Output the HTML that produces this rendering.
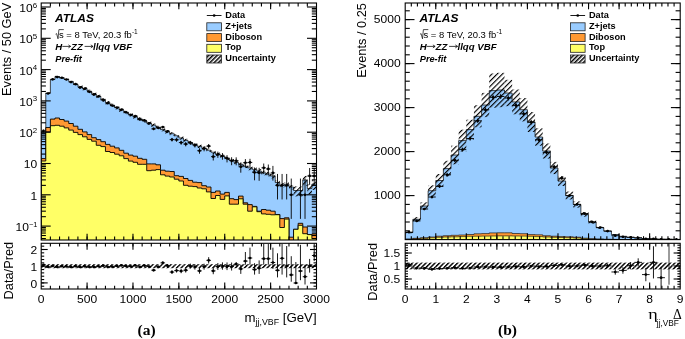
<!DOCTYPE html><html><head><meta charset="utf-8"><style>html,body{margin:0;padding:0;background:#fff;}svg{display:block;filter:blur(0.3px);}text{font-family:'Liberation Sans', sans-serif;}</style></head><body>
<svg width="685" height="339" viewBox="0 0 685 339">
<defs>
<pattern id="hatch" patternUnits="userSpaceOnUse" width="3.7" height="3.7" patternTransform="rotate(45)"><rect x="0" y="0" width="1.15" height="3.7" fill="#000"/></pattern><pattern id="hatchL" patternUnits="userSpaceOnUse" width="3.0" height="3.0" patternTransform="rotate(45)"><rect x="0" y="0" width="1.5" height="3.0" fill="#000"/></pattern><pattern id="hatch2" patternUnits="userSpaceOnUse" width="3.2" height="3.2" patternTransform="rotate(45)"><rect x="0" y="0" width="1.45" height="3.2" fill="#000"/></pattern>
<clipPath id="cl1"><rect x="41.2" y="3" width="275.3" height="237"/></clipPath>
<clipPath id="cl2"><rect x="41.2" y="243.3" width="275.3" height="45.7"/></clipPath>
</defs>
<rect width="685" height="339" fill="#fff"/>
<g clip-path="url(#cl1)">
<path d="M41.2,241 L41.2,132 L45.79,132 L45.79,93 L50.38,93 L50.38,79.5 L54.97,79.5 L54.97,76.5 L59.55,76.5 L59.55,77.8 L64.14,77.8 L64.14,79.3 L68.73,79.3 L68.73,81.5 L73.32,81.5 L73.32,84.2 L77.91,84.2 L77.91,86.8 L82.5,86.8 L82.5,88.6 L87.08,88.6 L87.08,91.2 L91.67,91.2 L91.67,93.9 L96.26,93.9 L96.26,96.3 L100.85,96.3 L100.85,100.11 L105.44,100.11 L105.44,102.65 L110.03,102.65 L110.03,105.17 L114.61,105.17 L114.61,107.65 L119.2,107.65 L119.2,110.14 L123.79,110.14 L123.79,112.4 L128.38,112.4 L128.38,114.66 L132.97,114.66 L132.97,116.82 L137.56,116.82 L137.56,118.84 L142.14,118.84 L142.14,120.86 L146.73,120.86 L146.73,122.99 L151.32,122.99 L151.32,125.14 L155.91,125.14 L155.91,127.34 L160.5,127.34 L160.5,129.56 L165.09,129.56 L165.09,131.75 L169.67,131.75 L169.67,133.73 L174.26,133.73 L174.26,135.72 L178.85,135.72 L178.85,137.94 L183.44,137.94 L183.44,140.35 L188.03,140.35 L188.03,142.76 L192.62,142.76 L192.62,144.52 L197.2,144.52 L197.2,146.27 L201.79,146.27 L201.79,148.14 L206.38,148.14 L206.38,150.19 L210.97,150.19 L210.97,152.2 L215.56,152.2 L215.56,154.14 L220.15,154.14 L220.15,156.1 L224.73,156.1 L224.73,158.24 L229.32,158.24 L229.32,160.38 L233.91,160.38 L233.91,162.4 L238.5,162.4 L238.5,164.35 L243.09,164.35 L243.09,166.29 L247.68,166.29 L247.68,167.85 L252.26,167.85 L252.26,169.4 L256.85,169.4 L256.85,171.07 L261.44,171.07 L261.44,172.87 L266.03,172.87 L266.03,174 L270.62,174 L270.62,176 L275.2,176 L275.21,182.5 L279.79,182.5 L279.79,185 L284.38,185 L284.38,184.2 L288.97,184.2 L288.97,187 L293.56,187 L293.56,190.5 L298.15,190.5 L298.15,190.5 L302.74,190.5 L302.74,180 L307.32,180 L307.32,188.5 L311.91,188.5 L311.91,184 L316.5,184 L316.5,241 Z" fill="#99ccff" stroke="#000" stroke-width="0.7"/>
<path d="M41.2,241 L41.2,158.6 L45.79,158.6 L45.79,127.5 L50.38,127.5 L50.38,119.1 L54.97,119.1 L54.97,118 L59.55,118 L59.55,119.5 L64.14,119.5 L64.14,121.1 L68.73,121.1 L68.73,123.5 L73.32,123.5 L73.32,126.2 L77.91,126.2 L77.91,129.3 L82.5,129.3 L82.5,131.9 L87.08,131.9 L87.08,134.6 L91.67,134.6 L91.67,137.7 L96.26,137.7 L96.26,139.6 L100.85,139.6 L100.85,141.7 L105.44,141.7 L105.44,144.4 L110.03,144.4 L110.03,146.2 L114.61,146.2 L114.61,147.9 L119.2,147.9 L119.2,150.3 L123.79,150.3 L123.79,153.2 L128.38,153.2 L128.38,155.1 L132.97,155.1 L132.97,156.2 L137.56,156.2 L137.56,158.3 L142.14,158.3 L142.14,159.3 L146.73,159.3 L146.73,163.9 L151.32,163.9 L151.32,163.9 L155.91,163.9 L155.91,164.8 L160.5,164.8 L160.5,170.2 L165.09,170.2 L165.09,171.2 L169.67,171.2 L169.67,171.5 L174.26,171.5 L174.26,175.7 L178.85,175.7 L178.85,176.4 L183.44,176.4 L183.44,178.5 L188.03,178.5 L188.03,180.4 L192.62,180.4 L192.62,182.2 L197.2,182.2 L197.2,182.6 L201.79,182.6 L201.79,185.7 L206.38,185.7 L206.38,187 L210.97,187 L210.97,192.4 L215.56,192.4 L215.56,191 L220.15,191 L220.15,194.1 L224.73,194.1 L224.73,192.4 L229.32,192.4 L229.32,198.7 L233.91,198.7 L233.91,199.6 L238.5,199.6 L238.5,196.1 L243.09,196.1 L243.09,202.8 L247.68,202.8 L247.68,204.6 L252.26,204.6 L252.26,206.4 L256.85,206.4 L256.85,211.2 L261.44,211.2 L261.44,209.5 L266.03,209.5 L266.03,210.2 L270.62,210.2 L270.62,211.2 L275.2,211.2 L275.21,214.5 L279.79,214.5 L279.79,218.6 L284.38,218.6 L284.38,217.8 L288.97,217.8 L288.97,237.2 L293.56,237.2 L293.56,229.3 L298.15,229.3 L298.15,223.3 L302.74,223.3 L302.74,227 L307.32,227 L307.32,234.6 L311.91,234.6 L311.91,234 L316.5,234 L316.5,241 Z" fill="#ff9933" stroke="#000" stroke-width="0.9"/>
<path d="M41.2,241 L41.2,161 L45.79,161 L45.79,131.9 L50.38,131.9 L50.38,125.7 L54.97,125.7 L54.97,125.3 L59.55,125.3 L59.55,126.2 L64.14,126.2 L64.14,127.9 L68.73,127.9 L68.73,130.1 L73.32,130.1 L73.32,132.4 L77.91,132.4 L77.91,134.6 L82.5,134.6 L82.5,136.8 L87.08,136.8 L87.08,139.4 L91.67,139.4 L91.67,141.2 L96.26,141.2 L96.26,145.3 L100.85,145.3 L100.85,146.6 L105.44,146.6 L105.44,151.5 L110.03,151.5 L110.03,152.5 L114.61,152.5 L114.61,154.2 L119.2,154.2 L119.2,155.8 L123.79,155.8 L123.79,158.6 L128.38,158.6 L128.38,161.1 L132.97,161.1 L132.97,162.3 L137.56,162.3 L137.56,164.3 L142.14,164.3 L142.14,164.3 L146.73,164.3 L146.73,170.7 L151.32,170.7 L151.32,170.2 L155.91,170.2 L155.91,169.6 L160.5,169.6 L160.5,174.8 L165.09,174.8 L165.09,176.1 L169.67,176.1 L169.67,177 L174.26,177 L174.26,179.2 L178.85,179.2 L178.85,181 L183.44,181 L183.44,185.3 L188.03,185.3 L188.03,186.2 L192.62,186.2 L192.62,186.6 L197.2,186.6 L197.2,188 L201.79,188 L201.79,188.8 L206.38,188.8 L206.38,191.9 L210.97,191.9 L210.97,198.5 L215.56,198.5 L215.56,195.5 L220.15,195.5 L220.15,199.4 L224.73,199.4 L224.73,195.9 L229.32,195.9 L229.32,204.2 L233.91,204.2 L233.91,204.2 L238.5,204.2 L238.5,198.8 L243.09,198.8 L243.09,204.2 L247.68,204.2 L247.68,211.2 L252.26,211.2 L252.26,206.8 L256.85,206.8 L256.85,211.7 L261.44,211.7 L261.44,213.9 L266.03,213.9 L266.03,214.3 L270.62,214.3 L270.62,214.8 L275.2,214.8 L275.21,214.7 L279.79,214.7 L279.79,227.5 L284.38,227.5 L284.38,219.1 L288.97,219.1 L288.97,245 L293.56,245 L293.56,229.3 L298.15,229.3 L298.15,225.3 L302.74,225.3 L302.74,233.7 L307.32,233.7 L307.32,234.6 L311.91,234.6 L311.91,238.5 L316.5,238.5 L316.5,241 Z" fill="#ffff66" stroke="#000" stroke-width="0.9"/>
<rect x="41.2" y="131.34" width="4.59" height="1.36" fill="url(#hatch)"/>
<rect x="45.79" y="92.34" width="4.59" height="1.36" fill="url(#hatch)"/>
<rect x="50.38" y="78.84" width="4.59" height="1.36" fill="url(#hatch)"/>
<rect x="54.97" y="75.84" width="4.59" height="1.36" fill="url(#hatch)"/>
<rect x="59.55" y="77.14" width="4.59" height="1.36" fill="url(#hatch)"/>
<rect x="64.14" y="78.64" width="4.59" height="1.36" fill="url(#hatch)"/>
<rect x="68.73" y="80.84" width="4.59" height="1.36" fill="url(#hatch)"/>
<rect x="73.32" y="83.54" width="4.59" height="1.36" fill="url(#hatch)"/>
<rect x="77.91" y="85.26" width="4.59" height="3.28" fill="url(#hatch)"/>
<rect x="82.5" y="87.06" width="4.59" height="3.28" fill="url(#hatch)"/>
<rect x="87.08" y="89.66" width="4.59" height="3.28" fill="url(#hatch)"/>
<rect x="91.67" y="92.36" width="4.59" height="3.28" fill="url(#hatch)"/>
<rect x="96.26" y="94.76" width="4.59" height="3.28" fill="url(#hatch)"/>
<rect x="100.85" y="98.57" width="4.59" height="3.28" fill="url(#hatch)"/>
<rect x="105.44" y="101.11" width="4.59" height="3.28" fill="url(#hatch)"/>
<rect x="110.03" y="103.63" width="4.59" height="3.28" fill="url(#hatch)"/>
<rect x="114.61" y="106.11" width="4.59" height="3.28" fill="url(#hatch)"/>
<rect x="119.2" y="108.6" width="4.59" height="3.28" fill="url(#hatch)"/>
<rect x="123.79" y="110.86" width="4.59" height="3.28" fill="url(#hatch)"/>
<rect x="128.38" y="113.12" width="4.59" height="3.28" fill="url(#hatch)"/>
<rect x="132.97" y="115.28" width="4.59" height="3.28" fill="url(#hatch)"/>
<rect x="137.56" y="117.3" width="4.59" height="3.28" fill="url(#hatch)"/>
<rect x="142.14" y="119.32" width="4.59" height="3.28" fill="url(#hatch)"/>
<rect x="146.73" y="121.45" width="4.59" height="3.28" fill="url(#hatch)"/>
<rect x="151.32" y="123.6" width="4.59" height="3.28" fill="url(#hatch)"/>
<rect x="155.91" y="125.8" width="4.59" height="3.28" fill="url(#hatch)"/>
<rect x="160.5" y="128.02" width="4.59" height="3.28" fill="url(#hatch)"/>
<rect x="165.09" y="130.21" width="4.59" height="3.28" fill="url(#hatch)"/>
<rect x="169.67" y="132.19" width="4.59" height="3.28" fill="url(#hatch)"/>
<rect x="174.26" y="134.18" width="4.59" height="3.28" fill="url(#hatch)"/>
<rect x="178.85" y="136.4" width="4.59" height="3.28" fill="url(#hatch)"/>
<rect x="183.44" y="138.81" width="4.59" height="3.28" fill="url(#hatch)"/>
<rect x="188.03" y="141.22" width="4.59" height="3.28" fill="url(#hatch)"/>
<rect x="192.62" y="142.98" width="4.59" height="3.28" fill="url(#hatch)"/>
<rect x="197.2" y="144.73" width="4.59" height="3.28" fill="url(#hatch)"/>
<rect x="201.79" y="146.6" width="4.59" height="3.28" fill="url(#hatch)"/>
<rect x="206.38" y="148.65" width="4.59" height="3.28" fill="url(#hatch)"/>
<rect x="210.97" y="150.66" width="4.59" height="3.28" fill="url(#hatch)"/>
<rect x="215.56" y="152.59" width="4.59" height="3.28" fill="url(#hatch)"/>
<rect x="220.15" y="154.56" width="4.59" height="3.28" fill="url(#hatch)"/>
<rect x="224.73" y="156.7" width="4.59" height="3.28" fill="url(#hatch)"/>
<rect x="229.32" y="158.83" width="4.59" height="3.28" fill="url(#hatch)"/>
<rect x="233.91" y="160.86" width="4.59" height="3.28" fill="url(#hatch)"/>
<rect x="238.5" y="162.81" width="4.59" height="3.28" fill="url(#hatch)"/>
<rect x="243.09" y="164.75" width="4.59" height="3.28" fill="url(#hatch)"/>
<rect x="247.68" y="165.83" width="4.59" height="4.39" fill="url(#hatch)"/>
<rect x="252.26" y="167.39" width="4.59" height="4.39" fill="url(#hatch)"/>
<rect x="256.85" y="169.05" width="4.59" height="4.39" fill="url(#hatch)"/>
<rect x="261.44" y="170.85" width="4.59" height="4.39" fill="url(#hatch)"/>
<rect x="266.03" y="171.98" width="4.59" height="4.39" fill="url(#hatch)"/>
<rect x="270.62" y="173.98" width="4.59" height="4.39" fill="url(#hatch)"/>
<rect x="275.21" y="180.48" width="4.59" height="4.39" fill="url(#hatch)"/>
<rect x="279.79" y="182.98" width="4.59" height="4.39" fill="url(#hatch)"/>
<rect x="284.38" y="182.18" width="4.59" height="4.39" fill="url(#hatch)"/>
<rect x="288.97" y="184.98" width="4.59" height="4.39" fill="url(#hatch)"/>
<rect x="293.56" y="186.42" width="4.59" height="9.94" fill="url(#hatch)"/>
<rect x="298.15" y="186.42" width="4.59" height="9.94" fill="url(#hatch)"/>
<rect x="302.74" y="175.92" width="4.59" height="9.94" fill="url(#hatch)"/>
<rect x="307.32" y="184.42" width="4.59" height="9.94" fill="url(#hatch)"/>
<rect x="311.91" y="179.92" width="4.59" height="9.94" fill="url(#hatch)"/>
<line x1="43.49" y1="129.71" x2="43.49" y2="132.32" stroke="#000" stroke-width="0.9"/>
<line x1="41.2" y1="130.95" x2="45.79" y2="130.95" stroke="#000" stroke-width="0.9"/>
<circle cx="43.49" cy="130.95" r="1.35" fill="#000"/>
<line x1="48.08" y1="93.16" x2="48.08" y2="93.81" stroke="#000" stroke-width="0.9"/>
<line x1="45.79" y1="93.48" x2="50.38" y2="93.48" stroke="#000" stroke-width="0.9"/>
<circle cx="48.08" cy="93.48" r="1.35" fill="#000"/>
<line x1="52.67" y1="79.1" x2="52.67" y2="79.49" stroke="#000" stroke-width="0.9"/>
<line x1="50.38" y1="79.3" x2="54.97" y2="79.3" stroke="#000" stroke-width="0.9"/>
<circle cx="52.67" cy="79.3" r="1.35" fill="#000"/>
<line x1="57.26" y1="76.92" x2="57.26" y2="77.27" stroke="#000" stroke-width="0.9"/>
<line x1="54.97" y1="77.09" x2="59.55" y2="77.09" stroke="#000" stroke-width="0.9"/>
<circle cx="57.26" cy="77.09" r="1.35" fill="#000"/>
<line x1="61.85" y1="77.57" x2="61.85" y2="77.94" stroke="#000" stroke-width="0.9"/>
<line x1="59.55" y1="77.75" x2="64.14" y2="77.75" stroke="#000" stroke-width="0.9"/>
<circle cx="61.85" cy="77.75" r="1.35" fill="#000"/>
<line x1="66.44" y1="79.29" x2="66.44" y2="79.68" stroke="#000" stroke-width="0.9"/>
<line x1="64.14" y1="79.48" x2="68.73" y2="79.48" stroke="#000" stroke-width="0.9"/>
<circle cx="66.44" cy="79.48" r="1.35" fill="#000"/>
<line x1="71.02" y1="81.9" x2="71.02" y2="82.33" stroke="#000" stroke-width="0.9"/>
<line x1="68.73" y1="82.11" x2="73.32" y2="82.11" stroke="#000" stroke-width="0.9"/>
<circle cx="71.02" cy="82.11" r="1.35" fill="#000"/>
<line x1="75.61" y1="83.96" x2="75.61" y2="84.42" stroke="#000" stroke-width="0.9"/>
<line x1="73.32" y1="84.19" x2="77.91" y2="84.19" stroke="#000" stroke-width="0.9"/>
<circle cx="75.61" cy="84.19" r="1.35" fill="#000"/>
<line x1="80.2" y1="87.18" x2="80.2" y2="87.71" stroke="#000" stroke-width="0.9"/>
<line x1="77.91" y1="87.44" x2="82.5" y2="87.44" stroke="#000" stroke-width="0.9"/>
<circle cx="80.2" cy="87.44" r="1.35" fill="#000"/>
<line x1="84.79" y1="88.42" x2="84.79" y2="88.97" stroke="#000" stroke-width="0.9"/>
<line x1="82.5" y1="88.69" x2="87.08" y2="88.69" stroke="#000" stroke-width="0.9"/>
<circle cx="84.79" cy="88.69" r="1.35" fill="#000"/>
<line x1="89.38" y1="91.49" x2="89.38" y2="92.11" stroke="#000" stroke-width="0.9"/>
<line x1="87.08" y1="91.8" x2="91.67" y2="91.8" stroke="#000" stroke-width="0.9"/>
<circle cx="89.38" cy="91.8" r="1.35" fill="#000"/>
<line x1="93.97" y1="94.13" x2="93.97" y2="94.81" stroke="#000" stroke-width="0.9"/>
<line x1="91.67" y1="94.47" x2="96.26" y2="94.47" stroke="#000" stroke-width="0.9"/>
<circle cx="93.97" cy="94.47" r="1.35" fill="#000"/>
<line x1="98.55" y1="96.04" x2="98.55" y2="96.77" stroke="#000" stroke-width="0.9"/>
<line x1="96.26" y1="96.4" x2="100.85" y2="96.4" stroke="#000" stroke-width="0.9"/>
<circle cx="98.55" cy="96.4" r="1.35" fill="#000"/>
<line x1="103.14" y1="99.27" x2="103.14" y2="100.09" stroke="#000" stroke-width="0.9"/>
<line x1="100.85" y1="99.68" x2="105.44" y2="99.68" stroke="#000" stroke-width="0.9"/>
<circle cx="103.14" cy="99.68" r="1.35" fill="#000"/>
<line x1="107.73" y1="102.72" x2="107.73" y2="103.65" stroke="#000" stroke-width="0.9"/>
<line x1="105.44" y1="103.18" x2="110.03" y2="103.18" stroke="#000" stroke-width="0.9"/>
<circle cx="107.73" cy="103.18" r="1.35" fill="#000"/>
<line x1="112.32" y1="105.05" x2="112.32" y2="106.07" stroke="#000" stroke-width="0.9"/>
<line x1="110.03" y1="105.55" x2="114.61" y2="105.55" stroke="#000" stroke-width="0.9"/>
<circle cx="112.32" cy="105.55" r="1.35" fill="#000"/>
<line x1="116.91" y1="106.95" x2="116.91" y2="108.04" stroke="#000" stroke-width="0.9"/>
<line x1="114.61" y1="107.48" x2="119.2" y2="107.48" stroke="#000" stroke-width="0.9"/>
<circle cx="116.91" cy="107.48" r="1.35" fill="#000"/>
<line x1="121.5" y1="108.97" x2="121.5" y2="110.15" stroke="#000" stroke-width="0.9"/>
<line x1="119.2" y1="109.55" x2="123.79" y2="109.55" stroke="#000" stroke-width="0.9"/>
<circle cx="121.5" cy="109.55" r="1.35" fill="#000"/>
<line x1="126.08" y1="111.66" x2="126.08" y2="112.97" stroke="#000" stroke-width="0.9"/>
<line x1="123.79" y1="112.3" x2="128.38" y2="112.3" stroke="#000" stroke-width="0.9"/>
<circle cx="126.08" cy="112.3" r="1.35" fill="#000"/>
<line x1="130.67" y1="114.1" x2="130.67" y2="115.54" stroke="#000" stroke-width="0.9"/>
<line x1="128.38" y1="114.8" x2="132.97" y2="114.8" stroke="#000" stroke-width="0.9"/>
<circle cx="130.67" cy="114.8" r="1.35" fill="#000"/>
<line x1="135.26" y1="115.45" x2="135.26" y2="116.96" stroke="#000" stroke-width="0.9"/>
<line x1="132.97" y1="116.19" x2="137.56" y2="116.19" stroke="#000" stroke-width="0.9"/>
<circle cx="135.26" cy="116.19" r="1.35" fill="#000"/>
<line x1="139.85" y1="118.65" x2="139.85" y2="120.35" stroke="#000" stroke-width="0.9"/>
<line x1="137.56" y1="119.47" x2="142.14" y2="119.47" stroke="#000" stroke-width="0.9"/>
<circle cx="139.85" cy="119.47" r="1.35" fill="#000"/>
<line x1="144.44" y1="119.53" x2="144.44" y2="121.3" stroke="#000" stroke-width="0.9"/>
<line x1="142.14" y1="120.39" x2="146.73" y2="120.39" stroke="#000" stroke-width="0.9"/>
<circle cx="144.44" cy="120.39" r="1.35" fill="#000"/>
<line x1="149.03" y1="122.33" x2="149.03" y2="124.3" stroke="#000" stroke-width="0.9"/>
<line x1="146.73" y1="123.28" x2="151.32" y2="123.28" stroke="#000" stroke-width="0.9"/>
<circle cx="149.03" cy="123.28" r="1.35" fill="#000"/>
<line x1="153.61" y1="127.72" x2="153.61" y2="130.13" stroke="#000" stroke-width="0.9"/>
<line x1="151.32" y1="128.87" x2="155.91" y2="128.87" stroke="#000" stroke-width="0.9"/>
<circle cx="153.61" cy="128.87" r="1.35" fill="#000"/>
<line x1="158.2" y1="126.76" x2="158.2" y2="129.08" stroke="#000" stroke-width="0.9"/>
<line x1="155.91" y1="127.87" x2="160.5" y2="127.87" stroke="#000" stroke-width="0.9"/>
<circle cx="158.2" cy="127.87" r="1.35" fill="#000"/>
<line x1="162.79" y1="126" x2="162.79" y2="128.26" stroke="#000" stroke-width="0.9"/>
<line x1="160.5" y1="127.08" x2="165.09" y2="127.08" stroke="#000" stroke-width="0.9"/>
<circle cx="162.79" cy="127.08" r="1.35" fill="#000"/>
<line x1="167.38" y1="130.07" x2="167.38" y2="132.71" stroke="#000" stroke-width="0.9"/>
<line x1="165.09" y1="131.33" x2="169.67" y2="131.33" stroke="#000" stroke-width="0.9"/>
<circle cx="167.38" cy="131.33" r="1.35" fill="#000"/>
<line x1="171.97" y1="137.91" x2="171.97" y2="141.5" stroke="#000" stroke-width="0.9"/>
<line x1="169.67" y1="139.59" x2="174.26" y2="139.59" stroke="#000" stroke-width="0.9"/>
<circle cx="171.97" cy="139.59" r="1.35" fill="#000"/>
<line x1="176.56" y1="138.12" x2="176.56" y2="141.74" stroke="#000" stroke-width="0.9"/>
<line x1="174.26" y1="139.81" x2="178.85" y2="139.81" stroke="#000" stroke-width="0.9"/>
<circle cx="176.56" cy="139.81" r="1.35" fill="#000"/>
<line x1="181.14" y1="140.73" x2="181.14" y2="144.75" stroke="#000" stroke-width="0.9"/>
<line x1="178.85" y1="142.59" x2="183.44" y2="142.59" stroke="#000" stroke-width="0.9"/>
<circle cx="181.14" cy="142.59" r="1.35" fill="#000"/>
<line x1="185.73" y1="142.12" x2="185.73" y2="146.36" stroke="#000" stroke-width="0.9"/>
<line x1="183.44" y1="144.08" x2="188.03" y2="144.08" stroke="#000" stroke-width="0.9"/>
<circle cx="185.73" cy="144.08" r="1.35" fill="#000"/>
<line x1="190.32" y1="140.83" x2="190.32" y2="144.86" stroke="#000" stroke-width="0.9"/>
<line x1="188.03" y1="142.69" x2="192.61" y2="142.69" stroke="#000" stroke-width="0.9"/>
<circle cx="190.32" cy="142.69" r="1.35" fill="#000"/>
<line x1="194.91" y1="143.1" x2="194.91" y2="147.51" stroke="#000" stroke-width="0.9"/>
<line x1="192.62" y1="145.13" x2="197.2" y2="145.13" stroke="#000" stroke-width="0.9"/>
<circle cx="194.91" cy="145.13" r="1.35" fill="#000"/>
<line x1="199.5" y1="148.28" x2="199.5" y2="153.73" stroke="#000" stroke-width="0.9"/>
<line x1="197.2" y1="150.73" x2="201.79" y2="150.73" stroke="#000" stroke-width="0.9"/>
<circle cx="199.5" cy="150.73" r="1.35" fill="#000"/>
<line x1="204.09" y1="146.27" x2="204.09" y2="151.29" stroke="#000" stroke-width="0.9"/>
<line x1="201.79" y1="148.55" x2="206.38" y2="148.55" stroke="#000" stroke-width="0.9"/>
<circle cx="204.09" cy="148.55" r="1.35" fill="#000"/>
<line x1="208.67" y1="144.02" x2="208.67" y2="148.59" stroke="#000" stroke-width="0.9"/>
<line x1="206.38" y1="146.11" x2="210.97" y2="146.11" stroke="#000" stroke-width="0.9"/>
<circle cx="208.67" cy="146.11" r="1.35" fill="#000"/>
<line x1="213.26" y1="153.68" x2="213.26" y2="160.5" stroke="#000" stroke-width="0.9"/>
<line x1="210.97" y1="156.67" x2="215.56" y2="156.67" stroke="#000" stroke-width="0.9"/>
<circle cx="213.26" cy="156.67" r="1.35" fill="#000"/>
<line x1="217.85" y1="151.62" x2="217.85" y2="157.88" stroke="#000" stroke-width="0.9"/>
<line x1="215.56" y1="154.39" x2="220.15" y2="154.39" stroke="#000" stroke-width="0.9"/>
<circle cx="217.85" cy="154.39" r="1.35" fill="#000"/>
<line x1="222.44" y1="153.06" x2="222.44" y2="159.71" stroke="#000" stroke-width="0.9"/>
<line x1="220.15" y1="155.98" x2="224.73" y2="155.98" stroke="#000" stroke-width="0.9"/>
<circle cx="222.44" cy="155.98" r="1.35" fill="#000"/>
<line x1="227.03" y1="155.15" x2="227.03" y2="162.42" stroke="#000" stroke-width="0.9"/>
<line x1="224.73" y1="158.3" x2="229.32" y2="158.3" stroke="#000" stroke-width="0.9"/>
<circle cx="227.03" cy="158.3" r="1.35" fill="#000"/>
<line x1="231.62" y1="157.24" x2="231.62" y2="165.21" stroke="#000" stroke-width="0.9"/>
<line x1="229.32" y1="160.65" x2="233.91" y2="160.65" stroke="#000" stroke-width="0.9"/>
<circle cx="231.62" cy="160.65" r="1.35" fill="#000"/>
<line x1="236.2" y1="157.33" x2="236.2" y2="165.32" stroke="#000" stroke-width="0.9"/>
<line x1="233.91" y1="160.74" x2="238.5" y2="160.74" stroke="#000" stroke-width="0.9"/>
<circle cx="236.2" cy="160.74" r="1.35" fill="#000"/>
<line x1="240.79" y1="162.58" x2="240.79" y2="172.7" stroke="#000" stroke-width="0.9"/>
<line x1="238.5" y1="166.72" x2="243.09" y2="166.72" stroke="#000" stroke-width="0.9"/>
<circle cx="240.79" cy="166.72" r="1.35" fill="#000"/>
<line x1="245.38" y1="159.08" x2="245.38" y2="167.72" stroke="#000" stroke-width="0.9"/>
<line x1="243.09" y1="162.73" x2="247.68" y2="162.73" stroke="#000" stroke-width="0.9"/>
<circle cx="245.38" cy="162.73" r="1.35" fill="#000"/>
<line x1="249.97" y1="158.82" x2="249.97" y2="167.35" stroke="#000" stroke-width="0.9"/>
<line x1="247.68" y1="162.43" x2="252.26" y2="162.43" stroke="#000" stroke-width="0.9"/>
<circle cx="249.97" cy="162.43" r="1.35" fill="#000"/>
<line x1="254.56" y1="167.49" x2="254.56" y2="180.3" stroke="#000" stroke-width="0.9"/>
<line x1="252.26" y1="172.44" x2="256.85" y2="172.44" stroke="#000" stroke-width="0.9"/>
<circle cx="254.56" cy="172.44" r="1.35" fill="#000"/>
<line x1="259.15" y1="167.8" x2="259.15" y2="180.81" stroke="#000" stroke-width="0.9"/>
<line x1="256.85" y1="172.8" x2="261.44" y2="172.8" stroke="#000" stroke-width="0.9"/>
<circle cx="259.15" cy="172.8" r="1.35" fill="#000"/>
<line x1="263.73" y1="163.53" x2="263.73" y2="174.12" stroke="#000" stroke-width="0.9"/>
<line x1="261.44" y1="167.82" x2="266.03" y2="167.82" stroke="#000" stroke-width="0.9"/>
<circle cx="263.73" cy="167.82" r="1.35" fill="#000"/>
<line x1="268.32" y1="164.51" x2="268.32" y2="175.59" stroke="#000" stroke-width="0.9"/>
<line x1="266.03" y1="168.95" x2="270.62" y2="168.95" stroke="#000" stroke-width="0.9"/>
<circle cx="268.32" cy="168.95" r="1.35" fill="#000"/>
<line x1="272.91" y1="165.9" x2="272.91" y2="180.61" stroke="#000" stroke-width="0.9"/>
<line x1="270.62" y1="172.92" x2="275.21" y2="172.92" stroke="#000" stroke-width="0.9"/>
<circle cx="272.91" cy="172.92" r="1.35" fill="#000"/>
<line x1="277.5" y1="173.94" x2="277.5" y2="199.46" stroke="#000" stroke-width="0.9"/>
<line x1="275.2" y1="185.38" x2="279.79" y2="185.38" stroke="#000" stroke-width="0.9"/>
<circle cx="277.5" cy="185.38" r="1.35" fill="#000"/>
<line x1="282.09" y1="173.94" x2="282.09" y2="199.46" stroke="#000" stroke-width="0.9"/>
<line x1="279.79" y1="185.38" x2="284.38" y2="185.38" stroke="#000" stroke-width="0.9"/>
<circle cx="282.09" cy="185.38" r="1.35" fill="#000"/>
<line x1="286.68" y1="173.94" x2="286.68" y2="199.46" stroke="#000" stroke-width="0.9"/>
<line x1="284.38" y1="185.38" x2="288.97" y2="185.38" stroke="#000" stroke-width="0.9"/>
<circle cx="286.68" cy="185.38" r="1.35" fill="#000"/>
<line x1="291.26" y1="178.57" x2="291.26" y2="218.89" stroke="#000" stroke-width="0.9"/>
<line x1="288.97" y1="194.8" x2="293.56" y2="194.8" stroke="#000" stroke-width="0.9"/>
<circle cx="291.26" cy="194.8" r="1.35" fill="#000"/>
<line x1="300.44" y1="178.57" x2="300.44" y2="218.89" stroke="#000" stroke-width="0.9"/>
<line x1="298.15" y1="194.8" x2="302.74" y2="194.8" stroke="#000" stroke-width="0.9"/>
<circle cx="300.44" cy="194.8" r="1.35" fill="#000"/>
<line x1="305.03" y1="178.57" x2="305.03" y2="218.89" stroke="#000" stroke-width="0.9"/>
<line x1="302.74" y1="194.8" x2="307.32" y2="194.8" stroke="#000" stroke-width="0.9"/>
<circle cx="305.03" cy="194.8" r="1.35" fill="#000"/>
<line x1="309.62" y1="168.04" x2="309.62" y2="184.78" stroke="#000" stroke-width="0.9"/>
<line x1="307.32" y1="175.96" x2="311.91" y2="175.96" stroke="#000" stroke-width="0.9"/>
<circle cx="309.62" cy="175.96" r="1.35" fill="#000"/>
<line x1="314.21" y1="168.04" x2="314.21" y2="184.78" stroke="#000" stroke-width="0.9"/>
<line x1="311.91" y1="175.96" x2="316.5" y2="175.96" stroke="#000" stroke-width="0.9"/>
<circle cx="314.21" cy="175.96" r="1.35" fill="#000"/>
</g>
<g clip-path="url(#cl2)">
<rect x="41.2" y="264.2" width="4.59" height="4.01" fill="url(#hatch2)"/>
<rect x="45.79" y="264.2" width="4.59" height="4.01" fill="url(#hatch2)"/>
<rect x="50.38" y="264.2" width="4.59" height="4.01" fill="url(#hatch2)"/>
<rect x="54.97" y="264.2" width="4.59" height="4.01" fill="url(#hatch2)"/>
<rect x="59.55" y="264.2" width="4.59" height="4.01" fill="url(#hatch2)"/>
<rect x="64.14" y="264.2" width="4.59" height="4.01" fill="url(#hatch2)"/>
<rect x="68.73" y="264.2" width="4.59" height="4.01" fill="url(#hatch2)"/>
<rect x="73.32" y="264.2" width="4.59" height="4.01" fill="url(#hatch2)"/>
<rect x="77.91" y="264.2" width="4.59" height="4.01" fill="url(#hatch2)"/>
<rect x="82.5" y="264.2" width="4.59" height="4.01" fill="url(#hatch2)"/>
<rect x="87.08" y="264.2" width="4.59" height="4.01" fill="url(#hatch2)"/>
<rect x="91.67" y="264.2" width="4.59" height="4.01" fill="url(#hatch2)"/>
<rect x="96.26" y="264.2" width="4.59" height="4.01" fill="url(#hatch2)"/>
<rect x="100.85" y="264.2" width="4.59" height="4.01" fill="url(#hatch2)"/>
<rect x="105.44" y="264.2" width="4.59" height="4.01" fill="url(#hatch2)"/>
<rect x="110.03" y="264.2" width="4.59" height="4.01" fill="url(#hatch2)"/>
<rect x="114.61" y="264.2" width="4.59" height="4.01" fill="url(#hatch2)"/>
<rect x="119.2" y="264.2" width="4.59" height="4.01" fill="url(#hatch2)"/>
<rect x="123.79" y="264.2" width="4.59" height="4.01" fill="url(#hatch2)"/>
<rect x="128.38" y="264.2" width="4.59" height="4.01" fill="url(#hatch2)"/>
<rect x="132.97" y="264.2" width="4.59" height="4.01" fill="url(#hatch2)"/>
<rect x="137.56" y="264.2" width="4.59" height="4.01" fill="url(#hatch2)"/>
<rect x="142.14" y="264.2" width="4.59" height="4.01" fill="url(#hatch2)"/>
<rect x="146.73" y="264.2" width="4.59" height="4.01" fill="url(#hatch2)"/>
<rect x="151.32" y="264.2" width="4.59" height="4.01" fill="url(#hatch2)"/>
<rect x="155.91" y="264.2" width="4.59" height="4.01" fill="url(#hatch2)"/>
<rect x="160.5" y="264.2" width="4.59" height="4.01" fill="url(#hatch2)"/>
<rect x="165.09" y="264.2" width="4.59" height="4.01" fill="url(#hatch2)"/>
<rect x="169.67" y="264.2" width="4.59" height="4.01" fill="url(#hatch2)"/>
<rect x="174.26" y="264.2" width="4.59" height="4.01" fill="url(#hatch2)"/>
<rect x="178.85" y="264.2" width="4.59" height="4.01" fill="url(#hatch2)"/>
<rect x="183.44" y="264.2" width="4.59" height="4.01" fill="url(#hatch2)"/>
<rect x="188.03" y="264.2" width="4.59" height="4.01" fill="url(#hatch2)"/>
<rect x="192.62" y="264.2" width="4.59" height="4.01" fill="url(#hatch2)"/>
<rect x="197.2" y="264.2" width="4.59" height="4.01" fill="url(#hatch2)"/>
<rect x="201.79" y="264.2" width="4.59" height="4.01" fill="url(#hatch2)"/>
<rect x="206.38" y="264.2" width="4.59" height="4.01" fill="url(#hatch2)"/>
<rect x="210.97" y="264.2" width="4.59" height="4.01" fill="url(#hatch2)"/>
<rect x="215.56" y="264.2" width="4.59" height="4.01" fill="url(#hatch2)"/>
<rect x="220.15" y="264.2" width="4.59" height="4.01" fill="url(#hatch2)"/>
<rect x="224.73" y="264.2" width="4.59" height="4.01" fill="url(#hatch2)"/>
<rect x="229.32" y="264.2" width="4.59" height="4.01" fill="url(#hatch2)"/>
<rect x="233.91" y="264.2" width="4.59" height="4.01" fill="url(#hatch2)"/>
<rect x="238.5" y="264.2" width="4.59" height="4.01" fill="url(#hatch2)"/>
<rect x="243.09" y="264.2" width="4.59" height="4.01" fill="url(#hatch2)"/>
<rect x="247.68" y="264.2" width="4.59" height="4.01" fill="url(#hatch2)"/>
<rect x="252.26" y="264.2" width="4.59" height="4.01" fill="url(#hatch2)"/>
<rect x="256.85" y="264.2" width="4.59" height="4.01" fill="url(#hatch2)"/>
<rect x="261.44" y="264.2" width="4.59" height="4.01" fill="url(#hatch2)"/>
<rect x="266.03" y="264.2" width="4.59" height="4.01" fill="url(#hatch2)"/>
<rect x="270.62" y="264.2" width="4.59" height="4.01" fill="url(#hatch2)"/>
<rect x="275.21" y="264.2" width="4.59" height="4.01" fill="url(#hatch2)"/>
<rect x="279.79" y="264.2" width="4.59" height="4.01" fill="url(#hatch2)"/>
<rect x="284.38" y="264.2" width="4.59" height="4.01" fill="url(#hatch2)"/>
<rect x="288.97" y="264.2" width="4.59" height="4.01" fill="url(#hatch2)"/>
<rect x="293.56" y="264.2" width="4.59" height="4.01" fill="url(#hatch2)"/>
<rect x="298.15" y="264.2" width="4.59" height="4.01" fill="url(#hatch2)"/>
<rect x="302.74" y="264.2" width="4.59" height="4.01" fill="url(#hatch2)"/>
<rect x="307.32" y="264.2" width="4.59" height="4.01" fill="url(#hatch2)"/>
<rect x="311.91" y="264.2" width="4.59" height="4.01" fill="url(#hatch2)"/>
<line x1="43.49" y1="264.36" x2="43.49" y2="265.37" stroke="#000" stroke-width="0.9"/>
<line x1="41.2" y1="264.86" x2="45.79" y2="264.86" stroke="#000" stroke-width="0.9"/>
<circle cx="43.49" cy="264.86" r="1.35" fill="#000"/>
<line x1="48.08" y1="266.28" x2="48.08" y2="267.28" stroke="#000" stroke-width="0.9"/>
<line x1="45.79" y1="266.78" x2="50.38" y2="266.78" stroke="#000" stroke-width="0.9"/>
<circle cx="48.08" cy="266.78" r="1.35" fill="#000"/>
<line x1="52.67" y1="265.45" x2="52.67" y2="266.45" stroke="#000" stroke-width="0.9"/>
<line x1="50.38" y1="265.95" x2="54.97" y2="265.95" stroke="#000" stroke-width="0.9"/>
<circle cx="52.67" cy="265.95" r="1.35" fill="#000"/>
<line x1="57.26" y1="266.41" x2="57.26" y2="267.42" stroke="#000" stroke-width="0.9"/>
<line x1="54.97" y1="266.91" x2="59.55" y2="266.91" stroke="#000" stroke-width="0.9"/>
<circle cx="57.26" cy="266.91" r="1.35" fill="#000"/>
<line x1="61.85" y1="265.64" x2="61.85" y2="266.64" stroke="#000" stroke-width="0.9"/>
<line x1="59.55" y1="266.14" x2="64.14" y2="266.14" stroke="#000" stroke-width="0.9"/>
<circle cx="61.85" cy="266.14" r="1.35" fill="#000"/>
<line x1="66.44" y1="265.92" x2="66.44" y2="266.93" stroke="#000" stroke-width="0.9"/>
<line x1="64.14" y1="266.42" x2="68.73" y2="266.42" stroke="#000" stroke-width="0.9"/>
<circle cx="66.44" cy="266.42" r="1.35" fill="#000"/>
<line x1="71.02" y1="266.44" x2="71.02" y2="267.44" stroke="#000" stroke-width="0.9"/>
<line x1="68.73" y1="266.94" x2="73.32" y2="266.94" stroke="#000" stroke-width="0.9"/>
<circle cx="71.02" cy="266.94" r="1.35" fill="#000"/>
<line x1="75.61" y1="265.69" x2="75.61" y2="266.69" stroke="#000" stroke-width="0.9"/>
<line x1="73.32" y1="266.19" x2="77.91" y2="266.19" stroke="#000" stroke-width="0.9"/>
<circle cx="75.61" cy="266.19" r="1.35" fill="#000"/>
<line x1="80.2" y1="266.47" x2="80.2" y2="267.47" stroke="#000" stroke-width="0.9"/>
<line x1="77.91" y1="266.97" x2="82.5" y2="266.97" stroke="#000" stroke-width="0.9"/>
<circle cx="80.2" cy="266.97" r="1.35" fill="#000"/>
<line x1="84.79" y1="265.81" x2="84.79" y2="266.81" stroke="#000" stroke-width="0.9"/>
<line x1="82.5" y1="266.31" x2="87.08" y2="266.31" stroke="#000" stroke-width="0.9"/>
<circle cx="84.79" cy="266.31" r="1.35" fill="#000"/>
<line x1="89.38" y1="266.42" x2="89.38" y2="267.42" stroke="#000" stroke-width="0.9"/>
<line x1="87.08" y1="266.92" x2="91.67" y2="266.92" stroke="#000" stroke-width="0.9"/>
<circle cx="89.38" cy="266.92" r="1.35" fill="#000"/>
<line x1="93.97" y1="266.38" x2="93.97" y2="267.38" stroke="#000" stroke-width="0.9"/>
<line x1="91.67" y1="266.88" x2="96.26" y2="266.88" stroke="#000" stroke-width="0.9"/>
<circle cx="93.97" cy="266.88" r="1.35" fill="#000"/>
<line x1="98.55" y1="265.83" x2="98.55" y2="266.83" stroke="#000" stroke-width="0.9"/>
<line x1="96.26" y1="266.33" x2="100.85" y2="266.33" stroke="#000" stroke-width="0.9"/>
<circle cx="98.55" cy="266.33" r="1.35" fill="#000"/>
<line x1="103.14" y1="265.15" x2="103.14" y2="266.16" stroke="#000" stroke-width="0.9"/>
<line x1="100.85" y1="265.65" x2="105.44" y2="265.65" stroke="#000" stroke-width="0.9"/>
<circle cx="103.14" cy="265.65" r="1.35" fill="#000"/>
<line x1="107.73" y1="266.33" x2="107.73" y2="267.33" stroke="#000" stroke-width="0.9"/>
<line x1="105.44" y1="266.83" x2="110.03" y2="266.83" stroke="#000" stroke-width="0.9"/>
<circle cx="107.73" cy="266.83" r="1.35" fill="#000"/>
<line x1="112.32" y1="266.16" x2="112.32" y2="267.16" stroke="#000" stroke-width="0.9"/>
<line x1="110.03" y1="266.66" x2="114.61" y2="266.66" stroke="#000" stroke-width="0.9"/>
<circle cx="112.32" cy="266.66" r="1.35" fill="#000"/>
<line x1="116.91" y1="265.49" x2="116.91" y2="266.49" stroke="#000" stroke-width="0.9"/>
<line x1="114.61" y1="265.99" x2="119.2" y2="265.99" stroke="#000" stroke-width="0.9"/>
<circle cx="116.91" cy="265.99" r="1.35" fill="#000"/>
<line x1="121.5" y1="264.95" x2="121.5" y2="265.95" stroke="#000" stroke-width="0.9"/>
<line x1="119.2" y1="265.45" x2="123.79" y2="265.45" stroke="#000" stroke-width="0.9"/>
<circle cx="121.5" cy="265.45" r="1.35" fill="#000"/>
<line x1="126.08" y1="265.57" x2="126.08" y2="266.57" stroke="#000" stroke-width="0.9"/>
<line x1="123.79" y1="266.07" x2="128.38" y2="266.07" stroke="#000" stroke-width="0.9"/>
<circle cx="126.08" cy="266.07" r="1.35" fill="#000"/>
<line x1="130.67" y1="265.87" x2="130.67" y2="266.87" stroke="#000" stroke-width="0.9"/>
<line x1="128.38" y1="266.37" x2="132.97" y2="266.37" stroke="#000" stroke-width="0.9"/>
<circle cx="130.67" cy="266.37" r="1.35" fill="#000"/>
<line x1="135.26" y1="264.9" x2="135.26" y2="265.91" stroke="#000" stroke-width="0.9"/>
<line x1="132.97" y1="265.4" x2="137.56" y2="265.4" stroke="#000" stroke-width="0.9"/>
<circle cx="135.26" cy="265.4" r="1.35" fill="#000"/>
<line x1="139.85" y1="266.29" x2="139.85" y2="267.63" stroke="#000" stroke-width="0.9"/>
<line x1="137.56" y1="266.96" x2="142.14" y2="266.96" stroke="#000" stroke-width="0.9"/>
<circle cx="139.85" cy="266.96" r="1.35" fill="#000"/>
<line x1="144.44" y1="264.77" x2="144.44" y2="266.44" stroke="#000" stroke-width="0.9"/>
<line x1="142.14" y1="265.6" x2="146.73" y2="265.6" stroke="#000" stroke-width="0.9"/>
<circle cx="144.44" cy="265.6" r="1.35" fill="#000"/>
<line x1="149.03" y1="265.55" x2="149.03" y2="267.55" stroke="#000" stroke-width="0.9"/>
<line x1="146.73" y1="266.55" x2="151.32" y2="266.55" stroke="#000" stroke-width="0.9"/>
<circle cx="149.03" cy="266.55" r="1.35" fill="#000"/>
<line x1="153.61" y1="269.04" x2="153.61" y2="271.38" stroke="#000" stroke-width="0.9"/>
<line x1="151.32" y1="270.21" x2="155.91" y2="270.21" stroke="#000" stroke-width="0.9"/>
<circle cx="153.61" cy="270.21" r="1.35" fill="#000"/>
<line x1="158.2" y1="265.5" x2="158.2" y2="268.17" stroke="#000" stroke-width="0.9"/>
<line x1="155.91" y1="266.84" x2="160.5" y2="266.84" stroke="#000" stroke-width="0.9"/>
<circle cx="158.2" cy="266.84" r="1.35" fill="#000"/>
<line x1="162.79" y1="261.36" x2="162.79" y2="264.36" stroke="#000" stroke-width="0.9"/>
<line x1="160.5" y1="262.86" x2="165.09" y2="262.86" stroke="#000" stroke-width="0.9"/>
<circle cx="162.79" cy="262.86" r="1.35" fill="#000"/>
<line x1="167.38" y1="264" x2="167.38" y2="267.34" stroke="#000" stroke-width="0.9"/>
<line x1="165.09" y1="265.67" x2="169.67" y2="265.67" stroke="#000" stroke-width="0.9"/>
<circle cx="167.38" cy="265.67" r="1.35" fill="#000"/>
<line x1="171.97" y1="270.21" x2="171.97" y2="273.88" stroke="#000" stroke-width="0.9"/>
<line x1="169.67" y1="272.05" x2="174.26" y2="272.05" stroke="#000" stroke-width="0.9"/>
<circle cx="171.97" cy="272.05" r="1.35" fill="#000"/>
<line x1="176.56" y1="268.54" x2="176.56" y2="272.55" stroke="#000" stroke-width="0.9"/>
<line x1="174.26" y1="270.54" x2="178.85" y2="270.54" stroke="#000" stroke-width="0.9"/>
<circle cx="176.56" cy="270.54" r="1.35" fill="#000"/>
<line x1="181.14" y1="268.87" x2="181.14" y2="273.21" stroke="#000" stroke-width="0.9"/>
<line x1="178.85" y1="271.04" x2="183.44" y2="271.04" stroke="#000" stroke-width="0.9"/>
<circle cx="181.14" cy="271.04" r="1.35" fill="#000"/>
<line x1="185.73" y1="267.87" x2="185.73" y2="272.55" stroke="#000" stroke-width="0.9"/>
<line x1="183.44" y1="270.21" x2="188.03" y2="270.21" stroke="#000" stroke-width="0.9"/>
<circle cx="185.73" cy="270.21" r="1.35" fill="#000"/>
<line x1="190.32" y1="263.62" x2="190.32" y2="268.63" stroke="#000" stroke-width="0.9"/>
<line x1="188.03" y1="266.12" x2="192.61" y2="266.12" stroke="#000" stroke-width="0.9"/>
<circle cx="190.32" cy="266.12" r="1.35" fill="#000"/>
<line x1="194.91" y1="264.26" x2="194.91" y2="269.6" stroke="#000" stroke-width="0.9"/>
<line x1="192.62" y1="266.93" x2="197.2" y2="266.93" stroke="#000" stroke-width="0.9"/>
<circle cx="194.91" cy="266.93" r="1.35" fill="#000"/>
<line x1="199.5" y1="268.04" x2="199.5" y2="273.71" stroke="#000" stroke-width="0.9"/>
<line x1="197.2" y1="270.88" x2="201.79" y2="270.88" stroke="#000" stroke-width="0.9"/>
<circle cx="199.5" cy="270.88" r="1.35" fill="#000"/>
<line x1="204.09" y1="263.69" x2="204.09" y2="269.7" stroke="#000" stroke-width="0.9"/>
<line x1="201.79" y1="266.69" x2="206.38" y2="266.69" stroke="#000" stroke-width="0.9"/>
<circle cx="204.09" cy="266.69" r="1.35" fill="#000"/>
<line x1="208.67" y1="257.18" x2="208.67" y2="263.53" stroke="#000" stroke-width="0.9"/>
<line x1="206.38" y1="260.35" x2="210.97" y2="260.35" stroke="#000" stroke-width="0.9"/>
<circle cx="208.67" cy="260.35" r="1.35" fill="#000"/>
<line x1="213.26" y1="267.54" x2="213.26" y2="274.22" stroke="#000" stroke-width="0.9"/>
<line x1="210.97" y1="270.88" x2="215.56" y2="270.88" stroke="#000" stroke-width="0.9"/>
<circle cx="213.26" cy="270.88" r="1.35" fill="#000"/>
<line x1="217.85" y1="263" x2="217.85" y2="270.02" stroke="#000" stroke-width="0.9"/>
<line x1="215.56" y1="266.51" x2="220.15" y2="266.51" stroke="#000" stroke-width="0.9"/>
<circle cx="217.85" cy="266.51" r="1.35" fill="#000"/>
<line x1="222.44" y1="262.38" x2="222.44" y2="269.73" stroke="#000" stroke-width="0.9"/>
<line x1="220.15" y1="266.06" x2="224.73" y2="266.06" stroke="#000" stroke-width="0.9"/>
<circle cx="222.44" cy="266.06" r="1.35" fill="#000"/>
<line x1="227.03" y1="262.44" x2="227.03" y2="270.12" stroke="#000" stroke-width="0.9"/>
<line x1="224.73" y1="266.28" x2="229.32" y2="266.28" stroke="#000" stroke-width="0.9"/>
<circle cx="227.03" cy="266.28" r="1.35" fill="#000"/>
<line x1="231.62" y1="262.53" x2="231.62" y2="270.54" stroke="#000" stroke-width="0.9"/>
<line x1="229.32" y1="266.53" x2="233.91" y2="266.53" stroke="#000" stroke-width="0.9"/>
<circle cx="231.62" cy="266.53" r="1.35" fill="#000"/>
<line x1="236.2" y1="262" x2="236.2" y2="266" stroke="#000" stroke-width="0.9"/>
<line x1="233.91" y1="264" x2="238.5" y2="264" stroke="#000" stroke-width="0.9"/>
<circle cx="236.2" cy="264" r="1.35" fill="#000"/>
<line x1="240.79" y1="264.7" x2="240.79" y2="273.9" stroke="#000" stroke-width="0.9"/>
<line x1="238.5" y1="268.9" x2="243.09" y2="268.9" stroke="#000" stroke-width="0.9"/>
<circle cx="240.79" cy="268.9" r="1.35" fill="#000"/>
<line x1="245.38" y1="252" x2="245.38" y2="264.7" stroke="#000" stroke-width="0.9"/>
<line x1="243.09" y1="261.1" x2="247.68" y2="261.1" stroke="#000" stroke-width="0.9"/>
<circle cx="245.38" cy="261.1" r="1.35" fill="#000"/>
<line x1="249.97" y1="247.7" x2="249.97" y2="264.7" stroke="#000" stroke-width="0.9"/>
<line x1="247.68" y1="258" x2="252.26" y2="258" stroke="#000" stroke-width="0.9"/>
<circle cx="249.97" cy="258" r="1.35" fill="#000"/>
<line x1="254.56" y1="263.2" x2="254.56" y2="274.6" stroke="#000" stroke-width="0.9"/>
<line x1="252.26" y1="269.6" x2="256.85" y2="269.6" stroke="#000" stroke-width="0.9"/>
<circle cx="254.56" cy="269.6" r="1.35" fill="#000"/>
<line x1="259.15" y1="260.4" x2="259.15" y2="273.9" stroke="#000" stroke-width="0.9"/>
<line x1="256.85" y1="268.2" x2="261.44" y2="268.2" stroke="#000" stroke-width="0.9"/>
<circle cx="259.15" cy="268.2" r="1.35" fill="#000"/>
<line x1="263.73" y1="244" x2="263.73" y2="264.7" stroke="#000" stroke-width="0.9"/>
<line x1="261.44" y1="258.7" x2="266.03" y2="258.7" stroke="#000" stroke-width="0.9"/>
<circle cx="263.73" cy="258.7" r="1.35" fill="#000"/>
<line x1="268.32" y1="244" x2="268.32" y2="264.7" stroke="#000" stroke-width="0.9"/>
<line x1="266.03" y1="258.7" x2="270.62" y2="258.7" stroke="#000" stroke-width="0.9"/>
<circle cx="268.32" cy="258.7" r="1.35" fill="#000"/>
<line x1="272.91" y1="247.7" x2="272.91" y2="268.9" stroke="#000" stroke-width="0.9"/>
<line x1="270.62" y1="262.5" x2="275.21" y2="262.5" stroke="#000" stroke-width="0.9"/>
<circle cx="272.91" cy="262.5" r="1.35" fill="#000"/>
<line x1="277.5" y1="253.3" x2="277.5" y2="277.4" stroke="#000" stroke-width="0.9"/>
<line x1="275.2" y1="270.3" x2="279.79" y2="270.3" stroke="#000" stroke-width="0.9"/>
<circle cx="277.5" cy="270.3" r="1.35" fill="#000"/>
<line x1="282.09" y1="244" x2="282.09" y2="274.6" stroke="#000" stroke-width="0.9"/>
<line x1="279.79" y1="258.3" x2="284.38" y2="258.3" stroke="#000" stroke-width="0.9"/>
<circle cx="282.09" cy="258.3" r="1.35" fill="#000"/>
<line x1="286.68" y1="246" x2="286.68" y2="277.4" stroke="#000" stroke-width="0.9"/>
<line x1="284.38" y1="266" x2="288.97" y2="266" stroke="#000" stroke-width="0.9"/>
<circle cx="286.68" cy="266" r="1.35" fill="#000"/>
<line x1="291.26" y1="256.2" x2="291.26" y2="281.7" stroke="#000" stroke-width="0.9"/>
<line x1="288.97" y1="274.9" x2="293.56" y2="274.9" stroke="#000" stroke-width="0.9"/>
<circle cx="291.26" cy="274.9" r="1.35" fill="#000"/>
<line x1="295.85" y1="262" x2="295.85" y2="283" stroke="#000" stroke-width="0.9"/>
<line x1="293.56" y1="283" x2="298.15" y2="283" stroke="#000" stroke-width="0.9"/>
<circle cx="295.85" cy="283" r="1.35" fill="#000"/>
<line x1="300.44" y1="244.8" x2="300.44" y2="280.2" stroke="#000" stroke-width="0.9"/>
<line x1="298.15" y1="271" x2="302.74" y2="271" stroke="#000" stroke-width="0.9"/>
<circle cx="300.44" cy="271" r="1.35" fill="#000"/>
<line x1="305.03" y1="264.7" x2="305.03" y2="284.5" stroke="#000" stroke-width="0.9"/>
<line x1="302.74" y1="276.7" x2="307.32" y2="276.7" stroke="#000" stroke-width="0.9"/>
<circle cx="305.03" cy="276.7" r="1.35" fill="#000"/>
<line x1="309.62" y1="258.91" x2="309.62" y2="272.61" stroke="#000" stroke-width="0.9"/>
<line x1="307.32" y1="265.76" x2="311.91" y2="265.76" stroke="#000" stroke-width="0.9"/>
<circle cx="309.62" cy="265.76" r="1.35" fill="#000"/>
<line x1="314.21" y1="243" x2="314.21" y2="261.1" stroke="#000" stroke-width="0.9"/>
<line x1="311.91" y1="255.5" x2="316.5" y2="255.5" stroke="#000" stroke-width="0.9"/>
<circle cx="314.21" cy="255.5" r="1.35" fill="#000"/>
</g>
<rect x="41.2" y="3" width="275.3" height="237" fill="none" stroke="#000" stroke-width="1.1"/>
<line x1="50.38" y1="240" x2="50.38" y2="236.6" stroke="#000" stroke-width="1.1"/>
<line x1="50.38" y1="3" x2="50.38" y2="6.4" stroke="#000" stroke-width="1.1"/>
<line x1="59.55" y1="240" x2="59.55" y2="236.6" stroke="#000" stroke-width="1.1"/>
<line x1="59.55" y1="3" x2="59.55" y2="6.4" stroke="#000" stroke-width="1.1"/>
<line x1="68.73" y1="240" x2="68.73" y2="236.6" stroke="#000" stroke-width="1.1"/>
<line x1="68.73" y1="3" x2="68.73" y2="6.4" stroke="#000" stroke-width="1.1"/>
<line x1="77.91" y1="240" x2="77.91" y2="236.6" stroke="#000" stroke-width="1.1"/>
<line x1="77.91" y1="3" x2="77.91" y2="6.4" stroke="#000" stroke-width="1.1"/>
<line x1="87.08" y1="240" x2="87.08" y2="236.6" stroke="#000" stroke-width="1.1"/>
<line x1="87.08" y1="3" x2="87.08" y2="6.4" stroke="#000" stroke-width="1.1"/>
<line x1="96.26" y1="240" x2="96.26" y2="236.6" stroke="#000" stroke-width="1.1"/>
<line x1="96.26" y1="3" x2="96.26" y2="6.4" stroke="#000" stroke-width="1.1"/>
<line x1="105.44" y1="240" x2="105.44" y2="236.6" stroke="#000" stroke-width="1.1"/>
<line x1="105.44" y1="3" x2="105.44" y2="6.4" stroke="#000" stroke-width="1.1"/>
<line x1="114.61" y1="240" x2="114.61" y2="236.6" stroke="#000" stroke-width="1.1"/>
<line x1="114.61" y1="3" x2="114.61" y2="6.4" stroke="#000" stroke-width="1.1"/>
<line x1="123.79" y1="240" x2="123.79" y2="236.6" stroke="#000" stroke-width="1.1"/>
<line x1="123.79" y1="3" x2="123.79" y2="6.4" stroke="#000" stroke-width="1.1"/>
<line x1="132.97" y1="240" x2="132.97" y2="236.6" stroke="#000" stroke-width="1.1"/>
<line x1="132.97" y1="3" x2="132.97" y2="6.4" stroke="#000" stroke-width="1.1"/>
<line x1="142.14" y1="240" x2="142.14" y2="236.6" stroke="#000" stroke-width="1.1"/>
<line x1="142.14" y1="3" x2="142.14" y2="6.4" stroke="#000" stroke-width="1.1"/>
<line x1="151.32" y1="240" x2="151.32" y2="236.6" stroke="#000" stroke-width="1.1"/>
<line x1="151.32" y1="3" x2="151.32" y2="6.4" stroke="#000" stroke-width="1.1"/>
<line x1="160.5" y1="240" x2="160.5" y2="236.6" stroke="#000" stroke-width="1.1"/>
<line x1="160.5" y1="3" x2="160.5" y2="6.4" stroke="#000" stroke-width="1.1"/>
<line x1="169.67" y1="240" x2="169.67" y2="236.6" stroke="#000" stroke-width="1.1"/>
<line x1="169.67" y1="3" x2="169.67" y2="6.4" stroke="#000" stroke-width="1.1"/>
<line x1="178.85" y1="240" x2="178.85" y2="236.6" stroke="#000" stroke-width="1.1"/>
<line x1="178.85" y1="3" x2="178.85" y2="6.4" stroke="#000" stroke-width="1.1"/>
<line x1="188.03" y1="240" x2="188.03" y2="236.6" stroke="#000" stroke-width="1.1"/>
<line x1="188.03" y1="3" x2="188.03" y2="6.4" stroke="#000" stroke-width="1.1"/>
<line x1="197.2" y1="240" x2="197.2" y2="236.6" stroke="#000" stroke-width="1.1"/>
<line x1="197.2" y1="3" x2="197.2" y2="6.4" stroke="#000" stroke-width="1.1"/>
<line x1="206.38" y1="240" x2="206.38" y2="236.6" stroke="#000" stroke-width="1.1"/>
<line x1="206.38" y1="3" x2="206.38" y2="6.4" stroke="#000" stroke-width="1.1"/>
<line x1="215.56" y1="240" x2="215.56" y2="236.6" stroke="#000" stroke-width="1.1"/>
<line x1="215.56" y1="3" x2="215.56" y2="6.4" stroke="#000" stroke-width="1.1"/>
<line x1="224.73" y1="240" x2="224.73" y2="236.6" stroke="#000" stroke-width="1.1"/>
<line x1="224.73" y1="3" x2="224.73" y2="6.4" stroke="#000" stroke-width="1.1"/>
<line x1="233.91" y1="240" x2="233.91" y2="236.6" stroke="#000" stroke-width="1.1"/>
<line x1="233.91" y1="3" x2="233.91" y2="6.4" stroke="#000" stroke-width="1.1"/>
<line x1="243.09" y1="240" x2="243.09" y2="236.6" stroke="#000" stroke-width="1.1"/>
<line x1="243.09" y1="3" x2="243.09" y2="6.4" stroke="#000" stroke-width="1.1"/>
<line x1="252.26" y1="240" x2="252.26" y2="236.6" stroke="#000" stroke-width="1.1"/>
<line x1="252.26" y1="3" x2="252.26" y2="6.4" stroke="#000" stroke-width="1.1"/>
<line x1="261.44" y1="240" x2="261.44" y2="236.6" stroke="#000" stroke-width="1.1"/>
<line x1="261.44" y1="3" x2="261.44" y2="6.4" stroke="#000" stroke-width="1.1"/>
<line x1="270.62" y1="240" x2="270.62" y2="236.6" stroke="#000" stroke-width="1.1"/>
<line x1="270.62" y1="3" x2="270.62" y2="6.4" stroke="#000" stroke-width="1.1"/>
<line x1="279.79" y1="240" x2="279.79" y2="236.6" stroke="#000" stroke-width="1.1"/>
<line x1="279.79" y1="3" x2="279.79" y2="6.4" stroke="#000" stroke-width="1.1"/>
<line x1="288.97" y1="240" x2="288.97" y2="236.6" stroke="#000" stroke-width="1.1"/>
<line x1="288.97" y1="3" x2="288.97" y2="6.4" stroke="#000" stroke-width="1.1"/>
<line x1="298.15" y1="240" x2="298.15" y2="236.6" stroke="#000" stroke-width="1.1"/>
<line x1="298.15" y1="3" x2="298.15" y2="6.4" stroke="#000" stroke-width="1.1"/>
<line x1="307.32" y1="240" x2="307.32" y2="236.6" stroke="#000" stroke-width="1.1"/>
<line x1="307.32" y1="3" x2="307.32" y2="6.4" stroke="#000" stroke-width="1.1"/>
<line x1="87.08" y1="240" x2="87.08" y2="233.7" stroke="#000" stroke-width="1.1"/>
<line x1="87.08" y1="3" x2="87.08" y2="9.3" stroke="#000" stroke-width="1.1"/>
<line x1="132.97" y1="240" x2="132.97" y2="233.7" stroke="#000" stroke-width="1.1"/>
<line x1="132.97" y1="3" x2="132.97" y2="9.3" stroke="#000" stroke-width="1.1"/>
<line x1="178.85" y1="240" x2="178.85" y2="233.7" stroke="#000" stroke-width="1.1"/>
<line x1="178.85" y1="3" x2="178.85" y2="9.3" stroke="#000" stroke-width="1.1"/>
<line x1="224.73" y1="240" x2="224.73" y2="233.7" stroke="#000" stroke-width="1.1"/>
<line x1="224.73" y1="3" x2="224.73" y2="9.3" stroke="#000" stroke-width="1.1"/>
<line x1="270.62" y1="240" x2="270.62" y2="233.7" stroke="#000" stroke-width="1.1"/>
<line x1="270.62" y1="3" x2="270.62" y2="9.3" stroke="#000" stroke-width="1.1"/>
<line x1="41.2" y1="238.56" x2="45.9" y2="238.56" stroke="#000" stroke-width="1.1"/>
<line x1="316.5" y1="238.56" x2="311.8" y2="238.56" stroke="#000" stroke-width="1.1"/>
<line x1="41.2" y1="235.52" x2="45.9" y2="235.52" stroke="#000" stroke-width="1.1"/>
<line x1="316.5" y1="235.52" x2="311.8" y2="235.52" stroke="#000" stroke-width="1.1"/>
<line x1="41.2" y1="233.04" x2="45.9" y2="233.04" stroke="#000" stroke-width="1.1"/>
<line x1="316.5" y1="233.04" x2="311.8" y2="233.04" stroke="#000" stroke-width="1.1"/>
<line x1="41.2" y1="230.95" x2="45.9" y2="230.95" stroke="#000" stroke-width="1.1"/>
<line x1="316.5" y1="230.95" x2="311.8" y2="230.95" stroke="#000" stroke-width="1.1"/>
<line x1="41.2" y1="229.13" x2="45.9" y2="229.13" stroke="#000" stroke-width="1.1"/>
<line x1="316.5" y1="229.13" x2="311.8" y2="229.13" stroke="#000" stroke-width="1.1"/>
<line x1="41.2" y1="227.53" x2="45.9" y2="227.53" stroke="#000" stroke-width="1.1"/>
<line x1="316.5" y1="227.53" x2="311.8" y2="227.53" stroke="#000" stroke-width="1.1"/>
<line x1="41.2" y1="216.68" x2="45.9" y2="216.68" stroke="#000" stroke-width="1.1"/>
<line x1="316.5" y1="216.68" x2="311.8" y2="216.68" stroke="#000" stroke-width="1.1"/>
<line x1="41.2" y1="211.17" x2="45.9" y2="211.17" stroke="#000" stroke-width="1.1"/>
<line x1="316.5" y1="211.17" x2="311.8" y2="211.17" stroke="#000" stroke-width="1.1"/>
<line x1="41.2" y1="207.26" x2="45.9" y2="207.26" stroke="#000" stroke-width="1.1"/>
<line x1="316.5" y1="207.26" x2="311.8" y2="207.26" stroke="#000" stroke-width="1.1"/>
<line x1="41.2" y1="204.22" x2="45.9" y2="204.22" stroke="#000" stroke-width="1.1"/>
<line x1="316.5" y1="204.22" x2="311.8" y2="204.22" stroke="#000" stroke-width="1.1"/>
<line x1="41.2" y1="201.74" x2="45.9" y2="201.74" stroke="#000" stroke-width="1.1"/>
<line x1="316.5" y1="201.74" x2="311.8" y2="201.74" stroke="#000" stroke-width="1.1"/>
<line x1="41.2" y1="199.65" x2="45.9" y2="199.65" stroke="#000" stroke-width="1.1"/>
<line x1="316.5" y1="199.65" x2="311.8" y2="199.65" stroke="#000" stroke-width="1.1"/>
<line x1="41.2" y1="197.83" x2="45.9" y2="197.83" stroke="#000" stroke-width="1.1"/>
<line x1="316.5" y1="197.83" x2="311.8" y2="197.83" stroke="#000" stroke-width="1.1"/>
<line x1="41.2" y1="196.23" x2="45.9" y2="196.23" stroke="#000" stroke-width="1.1"/>
<line x1="316.5" y1="196.23" x2="311.8" y2="196.23" stroke="#000" stroke-width="1.1"/>
<line x1="41.2" y1="185.38" x2="45.9" y2="185.38" stroke="#000" stroke-width="1.1"/>
<line x1="316.5" y1="185.38" x2="311.8" y2="185.38" stroke="#000" stroke-width="1.1"/>
<line x1="41.2" y1="179.87" x2="45.9" y2="179.87" stroke="#000" stroke-width="1.1"/>
<line x1="316.5" y1="179.87" x2="311.8" y2="179.87" stroke="#000" stroke-width="1.1"/>
<line x1="41.2" y1="175.96" x2="45.9" y2="175.96" stroke="#000" stroke-width="1.1"/>
<line x1="316.5" y1="175.96" x2="311.8" y2="175.96" stroke="#000" stroke-width="1.1"/>
<line x1="41.2" y1="172.92" x2="45.9" y2="172.92" stroke="#000" stroke-width="1.1"/>
<line x1="316.5" y1="172.92" x2="311.8" y2="172.92" stroke="#000" stroke-width="1.1"/>
<line x1="41.2" y1="170.44" x2="45.9" y2="170.44" stroke="#000" stroke-width="1.1"/>
<line x1="316.5" y1="170.44" x2="311.8" y2="170.44" stroke="#000" stroke-width="1.1"/>
<line x1="41.2" y1="168.35" x2="45.9" y2="168.35" stroke="#000" stroke-width="1.1"/>
<line x1="316.5" y1="168.35" x2="311.8" y2="168.35" stroke="#000" stroke-width="1.1"/>
<line x1="41.2" y1="166.53" x2="45.9" y2="166.53" stroke="#000" stroke-width="1.1"/>
<line x1="316.5" y1="166.53" x2="311.8" y2="166.53" stroke="#000" stroke-width="1.1"/>
<line x1="41.2" y1="164.93" x2="45.9" y2="164.93" stroke="#000" stroke-width="1.1"/>
<line x1="316.5" y1="164.93" x2="311.8" y2="164.93" stroke="#000" stroke-width="1.1"/>
<line x1="41.2" y1="154.08" x2="45.9" y2="154.08" stroke="#000" stroke-width="1.1"/>
<line x1="316.5" y1="154.08" x2="311.8" y2="154.08" stroke="#000" stroke-width="1.1"/>
<line x1="41.2" y1="148.57" x2="45.9" y2="148.57" stroke="#000" stroke-width="1.1"/>
<line x1="316.5" y1="148.57" x2="311.8" y2="148.57" stroke="#000" stroke-width="1.1"/>
<line x1="41.2" y1="144.66" x2="45.9" y2="144.66" stroke="#000" stroke-width="1.1"/>
<line x1="316.5" y1="144.66" x2="311.8" y2="144.66" stroke="#000" stroke-width="1.1"/>
<line x1="41.2" y1="141.62" x2="45.9" y2="141.62" stroke="#000" stroke-width="1.1"/>
<line x1="316.5" y1="141.62" x2="311.8" y2="141.62" stroke="#000" stroke-width="1.1"/>
<line x1="41.2" y1="139.14" x2="45.9" y2="139.14" stroke="#000" stroke-width="1.1"/>
<line x1="316.5" y1="139.14" x2="311.8" y2="139.14" stroke="#000" stroke-width="1.1"/>
<line x1="41.2" y1="137.05" x2="45.9" y2="137.05" stroke="#000" stroke-width="1.1"/>
<line x1="316.5" y1="137.05" x2="311.8" y2="137.05" stroke="#000" stroke-width="1.1"/>
<line x1="41.2" y1="135.23" x2="45.9" y2="135.23" stroke="#000" stroke-width="1.1"/>
<line x1="316.5" y1="135.23" x2="311.8" y2="135.23" stroke="#000" stroke-width="1.1"/>
<line x1="41.2" y1="133.63" x2="45.9" y2="133.63" stroke="#000" stroke-width="1.1"/>
<line x1="316.5" y1="133.63" x2="311.8" y2="133.63" stroke="#000" stroke-width="1.1"/>
<line x1="41.2" y1="122.78" x2="45.9" y2="122.78" stroke="#000" stroke-width="1.1"/>
<line x1="316.5" y1="122.78" x2="311.8" y2="122.78" stroke="#000" stroke-width="1.1"/>
<line x1="41.2" y1="117.27" x2="45.9" y2="117.27" stroke="#000" stroke-width="1.1"/>
<line x1="316.5" y1="117.27" x2="311.8" y2="117.27" stroke="#000" stroke-width="1.1"/>
<line x1="41.2" y1="113.36" x2="45.9" y2="113.36" stroke="#000" stroke-width="1.1"/>
<line x1="316.5" y1="113.36" x2="311.8" y2="113.36" stroke="#000" stroke-width="1.1"/>
<line x1="41.2" y1="110.32" x2="45.9" y2="110.32" stroke="#000" stroke-width="1.1"/>
<line x1="316.5" y1="110.32" x2="311.8" y2="110.32" stroke="#000" stroke-width="1.1"/>
<line x1="41.2" y1="107.84" x2="45.9" y2="107.84" stroke="#000" stroke-width="1.1"/>
<line x1="316.5" y1="107.84" x2="311.8" y2="107.84" stroke="#000" stroke-width="1.1"/>
<line x1="41.2" y1="105.75" x2="45.9" y2="105.75" stroke="#000" stroke-width="1.1"/>
<line x1="316.5" y1="105.75" x2="311.8" y2="105.75" stroke="#000" stroke-width="1.1"/>
<line x1="41.2" y1="103.93" x2="45.9" y2="103.93" stroke="#000" stroke-width="1.1"/>
<line x1="316.5" y1="103.93" x2="311.8" y2="103.93" stroke="#000" stroke-width="1.1"/>
<line x1="41.2" y1="102.33" x2="45.9" y2="102.33" stroke="#000" stroke-width="1.1"/>
<line x1="316.5" y1="102.33" x2="311.8" y2="102.33" stroke="#000" stroke-width="1.1"/>
<line x1="41.2" y1="91.48" x2="45.9" y2="91.48" stroke="#000" stroke-width="1.1"/>
<line x1="316.5" y1="91.48" x2="311.8" y2="91.48" stroke="#000" stroke-width="1.1"/>
<line x1="41.2" y1="85.97" x2="45.9" y2="85.97" stroke="#000" stroke-width="1.1"/>
<line x1="316.5" y1="85.97" x2="311.8" y2="85.97" stroke="#000" stroke-width="1.1"/>
<line x1="41.2" y1="82.06" x2="45.9" y2="82.06" stroke="#000" stroke-width="1.1"/>
<line x1="316.5" y1="82.06" x2="311.8" y2="82.06" stroke="#000" stroke-width="1.1"/>
<line x1="41.2" y1="79.02" x2="45.9" y2="79.02" stroke="#000" stroke-width="1.1"/>
<line x1="316.5" y1="79.02" x2="311.8" y2="79.02" stroke="#000" stroke-width="1.1"/>
<line x1="41.2" y1="76.54" x2="45.9" y2="76.54" stroke="#000" stroke-width="1.1"/>
<line x1="316.5" y1="76.54" x2="311.8" y2="76.54" stroke="#000" stroke-width="1.1"/>
<line x1="41.2" y1="74.45" x2="45.9" y2="74.45" stroke="#000" stroke-width="1.1"/>
<line x1="316.5" y1="74.45" x2="311.8" y2="74.45" stroke="#000" stroke-width="1.1"/>
<line x1="41.2" y1="72.63" x2="45.9" y2="72.63" stroke="#000" stroke-width="1.1"/>
<line x1="316.5" y1="72.63" x2="311.8" y2="72.63" stroke="#000" stroke-width="1.1"/>
<line x1="41.2" y1="71.03" x2="45.9" y2="71.03" stroke="#000" stroke-width="1.1"/>
<line x1="316.5" y1="71.03" x2="311.8" y2="71.03" stroke="#000" stroke-width="1.1"/>
<line x1="41.2" y1="60.18" x2="45.9" y2="60.18" stroke="#000" stroke-width="1.1"/>
<line x1="316.5" y1="60.18" x2="311.8" y2="60.18" stroke="#000" stroke-width="1.1"/>
<line x1="41.2" y1="54.67" x2="45.9" y2="54.67" stroke="#000" stroke-width="1.1"/>
<line x1="316.5" y1="54.67" x2="311.8" y2="54.67" stroke="#000" stroke-width="1.1"/>
<line x1="41.2" y1="50.76" x2="45.9" y2="50.76" stroke="#000" stroke-width="1.1"/>
<line x1="316.5" y1="50.76" x2="311.8" y2="50.76" stroke="#000" stroke-width="1.1"/>
<line x1="41.2" y1="47.72" x2="45.9" y2="47.72" stroke="#000" stroke-width="1.1"/>
<line x1="316.5" y1="47.72" x2="311.8" y2="47.72" stroke="#000" stroke-width="1.1"/>
<line x1="41.2" y1="45.24" x2="45.9" y2="45.24" stroke="#000" stroke-width="1.1"/>
<line x1="316.5" y1="45.24" x2="311.8" y2="45.24" stroke="#000" stroke-width="1.1"/>
<line x1="41.2" y1="43.15" x2="45.9" y2="43.15" stroke="#000" stroke-width="1.1"/>
<line x1="316.5" y1="43.15" x2="311.8" y2="43.15" stroke="#000" stroke-width="1.1"/>
<line x1="41.2" y1="41.33" x2="45.9" y2="41.33" stroke="#000" stroke-width="1.1"/>
<line x1="316.5" y1="41.33" x2="311.8" y2="41.33" stroke="#000" stroke-width="1.1"/>
<line x1="41.2" y1="39.73" x2="45.9" y2="39.73" stroke="#000" stroke-width="1.1"/>
<line x1="316.5" y1="39.73" x2="311.8" y2="39.73" stroke="#000" stroke-width="1.1"/>
<line x1="41.2" y1="28.88" x2="45.9" y2="28.88" stroke="#000" stroke-width="1.1"/>
<line x1="316.5" y1="28.88" x2="311.8" y2="28.88" stroke="#000" stroke-width="1.1"/>
<line x1="41.2" y1="23.37" x2="45.9" y2="23.37" stroke="#000" stroke-width="1.1"/>
<line x1="316.5" y1="23.37" x2="311.8" y2="23.37" stroke="#000" stroke-width="1.1"/>
<line x1="41.2" y1="19.46" x2="45.9" y2="19.46" stroke="#000" stroke-width="1.1"/>
<line x1="316.5" y1="19.46" x2="311.8" y2="19.46" stroke="#000" stroke-width="1.1"/>
<line x1="41.2" y1="16.42" x2="45.9" y2="16.42" stroke="#000" stroke-width="1.1"/>
<line x1="316.5" y1="16.42" x2="311.8" y2="16.42" stroke="#000" stroke-width="1.1"/>
<line x1="41.2" y1="13.94" x2="45.9" y2="13.94" stroke="#000" stroke-width="1.1"/>
<line x1="316.5" y1="13.94" x2="311.8" y2="13.94" stroke="#000" stroke-width="1.1"/>
<line x1="41.2" y1="11.85" x2="45.9" y2="11.85" stroke="#000" stroke-width="1.1"/>
<line x1="316.5" y1="11.85" x2="311.8" y2="11.85" stroke="#000" stroke-width="1.1"/>
<line x1="41.2" y1="10.03" x2="45.9" y2="10.03" stroke="#000" stroke-width="1.1"/>
<line x1="316.5" y1="10.03" x2="311.8" y2="10.03" stroke="#000" stroke-width="1.1"/>
<line x1="41.2" y1="8.43" x2="45.9" y2="8.43" stroke="#000" stroke-width="1.1"/>
<line x1="316.5" y1="8.43" x2="311.8" y2="8.43" stroke="#000" stroke-width="1.1"/>
<line x1="41.2" y1="226.1" x2="50.7" y2="226.1" stroke="#000" stroke-width="1.1"/>
<line x1="316.5" y1="226.1" x2="307" y2="226.1" stroke="#000" stroke-width="1.1"/>
<line x1="41.2" y1="194.8" x2="50.7" y2="194.8" stroke="#000" stroke-width="1.1"/>
<line x1="316.5" y1="194.8" x2="307" y2="194.8" stroke="#000" stroke-width="1.1"/>
<line x1="41.2" y1="163.5" x2="50.7" y2="163.5" stroke="#000" stroke-width="1.1"/>
<line x1="316.5" y1="163.5" x2="307" y2="163.5" stroke="#000" stroke-width="1.1"/>
<line x1="41.2" y1="132.2" x2="50.7" y2="132.2" stroke="#000" stroke-width="1.1"/>
<line x1="316.5" y1="132.2" x2="307" y2="132.2" stroke="#000" stroke-width="1.1"/>
<line x1="41.2" y1="100.9" x2="50.7" y2="100.9" stroke="#000" stroke-width="1.1"/>
<line x1="316.5" y1="100.9" x2="307" y2="100.9" stroke="#000" stroke-width="1.1"/>
<line x1="41.2" y1="69.6" x2="50.7" y2="69.6" stroke="#000" stroke-width="1.1"/>
<line x1="316.5" y1="69.6" x2="307" y2="69.6" stroke="#000" stroke-width="1.1"/>
<line x1="41.2" y1="38.3" x2="50.7" y2="38.3" stroke="#000" stroke-width="1.1"/>
<line x1="316.5" y1="38.3" x2="307" y2="38.3" stroke="#000" stroke-width="1.1"/>
<line x1="41.2" y1="7" x2="50.7" y2="7" stroke="#000" stroke-width="1.1"/>
<line x1="316.5" y1="7" x2="307" y2="7" stroke="#000" stroke-width="1.1"/>
<rect x="41.2" y="243.3" width="275.3" height="45.7" fill="none" stroke="#000" stroke-width="1.1"/>
<line x1="50.38" y1="289" x2="50.38" y2="285.8" stroke="#000" stroke-width="1.1"/>
<line x1="50.38" y1="243.3" x2="50.38" y2="246.5" stroke="#000" stroke-width="1.1"/>
<line x1="59.55" y1="289" x2="59.55" y2="285.8" stroke="#000" stroke-width="1.1"/>
<line x1="59.55" y1="243.3" x2="59.55" y2="246.5" stroke="#000" stroke-width="1.1"/>
<line x1="68.73" y1="289" x2="68.73" y2="285.8" stroke="#000" stroke-width="1.1"/>
<line x1="68.73" y1="243.3" x2="68.73" y2="246.5" stroke="#000" stroke-width="1.1"/>
<line x1="77.91" y1="289" x2="77.91" y2="285.8" stroke="#000" stroke-width="1.1"/>
<line x1="77.91" y1="243.3" x2="77.91" y2="246.5" stroke="#000" stroke-width="1.1"/>
<line x1="87.08" y1="289" x2="87.08" y2="285.8" stroke="#000" stroke-width="1.1"/>
<line x1="87.08" y1="243.3" x2="87.08" y2="246.5" stroke="#000" stroke-width="1.1"/>
<line x1="96.26" y1="289" x2="96.26" y2="285.8" stroke="#000" stroke-width="1.1"/>
<line x1="96.26" y1="243.3" x2="96.26" y2="246.5" stroke="#000" stroke-width="1.1"/>
<line x1="105.44" y1="289" x2="105.44" y2="285.8" stroke="#000" stroke-width="1.1"/>
<line x1="105.44" y1="243.3" x2="105.44" y2="246.5" stroke="#000" stroke-width="1.1"/>
<line x1="114.61" y1="289" x2="114.61" y2="285.8" stroke="#000" stroke-width="1.1"/>
<line x1="114.61" y1="243.3" x2="114.61" y2="246.5" stroke="#000" stroke-width="1.1"/>
<line x1="123.79" y1="289" x2="123.79" y2="285.8" stroke="#000" stroke-width="1.1"/>
<line x1="123.79" y1="243.3" x2="123.79" y2="246.5" stroke="#000" stroke-width="1.1"/>
<line x1="132.97" y1="289" x2="132.97" y2="285.8" stroke="#000" stroke-width="1.1"/>
<line x1="132.97" y1="243.3" x2="132.97" y2="246.5" stroke="#000" stroke-width="1.1"/>
<line x1="142.14" y1="289" x2="142.14" y2="285.8" stroke="#000" stroke-width="1.1"/>
<line x1="142.14" y1="243.3" x2="142.14" y2="246.5" stroke="#000" stroke-width="1.1"/>
<line x1="151.32" y1="289" x2="151.32" y2="285.8" stroke="#000" stroke-width="1.1"/>
<line x1="151.32" y1="243.3" x2="151.32" y2="246.5" stroke="#000" stroke-width="1.1"/>
<line x1="160.5" y1="289" x2="160.5" y2="285.8" stroke="#000" stroke-width="1.1"/>
<line x1="160.5" y1="243.3" x2="160.5" y2="246.5" stroke="#000" stroke-width="1.1"/>
<line x1="169.67" y1="289" x2="169.67" y2="285.8" stroke="#000" stroke-width="1.1"/>
<line x1="169.67" y1="243.3" x2="169.67" y2="246.5" stroke="#000" stroke-width="1.1"/>
<line x1="178.85" y1="289" x2="178.85" y2="285.8" stroke="#000" stroke-width="1.1"/>
<line x1="178.85" y1="243.3" x2="178.85" y2="246.5" stroke="#000" stroke-width="1.1"/>
<line x1="188.03" y1="289" x2="188.03" y2="285.8" stroke="#000" stroke-width="1.1"/>
<line x1="188.03" y1="243.3" x2="188.03" y2="246.5" stroke="#000" stroke-width="1.1"/>
<line x1="197.2" y1="289" x2="197.2" y2="285.8" stroke="#000" stroke-width="1.1"/>
<line x1="197.2" y1="243.3" x2="197.2" y2="246.5" stroke="#000" stroke-width="1.1"/>
<line x1="206.38" y1="289" x2="206.38" y2="285.8" stroke="#000" stroke-width="1.1"/>
<line x1="206.38" y1="243.3" x2="206.38" y2="246.5" stroke="#000" stroke-width="1.1"/>
<line x1="215.56" y1="289" x2="215.56" y2="285.8" stroke="#000" stroke-width="1.1"/>
<line x1="215.56" y1="243.3" x2="215.56" y2="246.5" stroke="#000" stroke-width="1.1"/>
<line x1="224.73" y1="289" x2="224.73" y2="285.8" stroke="#000" stroke-width="1.1"/>
<line x1="224.73" y1="243.3" x2="224.73" y2="246.5" stroke="#000" stroke-width="1.1"/>
<line x1="233.91" y1="289" x2="233.91" y2="285.8" stroke="#000" stroke-width="1.1"/>
<line x1="233.91" y1="243.3" x2="233.91" y2="246.5" stroke="#000" stroke-width="1.1"/>
<line x1="243.09" y1="289" x2="243.09" y2="285.8" stroke="#000" stroke-width="1.1"/>
<line x1="243.09" y1="243.3" x2="243.09" y2="246.5" stroke="#000" stroke-width="1.1"/>
<line x1="252.26" y1="289" x2="252.26" y2="285.8" stroke="#000" stroke-width="1.1"/>
<line x1="252.26" y1="243.3" x2="252.26" y2="246.5" stroke="#000" stroke-width="1.1"/>
<line x1="261.44" y1="289" x2="261.44" y2="285.8" stroke="#000" stroke-width="1.1"/>
<line x1="261.44" y1="243.3" x2="261.44" y2="246.5" stroke="#000" stroke-width="1.1"/>
<line x1="270.62" y1="289" x2="270.62" y2="285.8" stroke="#000" stroke-width="1.1"/>
<line x1="270.62" y1="243.3" x2="270.62" y2="246.5" stroke="#000" stroke-width="1.1"/>
<line x1="279.79" y1="289" x2="279.79" y2="285.8" stroke="#000" stroke-width="1.1"/>
<line x1="279.79" y1="243.3" x2="279.79" y2="246.5" stroke="#000" stroke-width="1.1"/>
<line x1="288.97" y1="289" x2="288.97" y2="285.8" stroke="#000" stroke-width="1.1"/>
<line x1="288.97" y1="243.3" x2="288.97" y2="246.5" stroke="#000" stroke-width="1.1"/>
<line x1="298.15" y1="289" x2="298.15" y2="285.8" stroke="#000" stroke-width="1.1"/>
<line x1="298.15" y1="243.3" x2="298.15" y2="246.5" stroke="#000" stroke-width="1.1"/>
<line x1="307.32" y1="289" x2="307.32" y2="285.8" stroke="#000" stroke-width="1.1"/>
<line x1="307.32" y1="243.3" x2="307.32" y2="246.5" stroke="#000" stroke-width="1.1"/>
<line x1="87.08" y1="289" x2="87.08" y2="282.5" stroke="#000" stroke-width="1.1"/>
<line x1="87.08" y1="243.3" x2="87.08" y2="249.8" stroke="#000" stroke-width="1.1"/>
<line x1="132.97" y1="289" x2="132.97" y2="282.5" stroke="#000" stroke-width="1.1"/>
<line x1="132.97" y1="243.3" x2="132.97" y2="249.8" stroke="#000" stroke-width="1.1"/>
<line x1="178.85" y1="289" x2="178.85" y2="282.5" stroke="#000" stroke-width="1.1"/>
<line x1="178.85" y1="243.3" x2="178.85" y2="249.8" stroke="#000" stroke-width="1.1"/>
<line x1="224.73" y1="289" x2="224.73" y2="282.5" stroke="#000" stroke-width="1.1"/>
<line x1="224.73" y1="243.3" x2="224.73" y2="249.8" stroke="#000" stroke-width="1.1"/>
<line x1="270.62" y1="289" x2="270.62" y2="282.5" stroke="#000" stroke-width="1.1"/>
<line x1="270.62" y1="243.3" x2="270.62" y2="249.8" stroke="#000" stroke-width="1.1"/>
<line x1="41.2" y1="286.24" x2="44.2" y2="286.24" stroke="#000" stroke-width="1.1"/>
<line x1="316.5" y1="286.24" x2="313.5" y2="286.24" stroke="#000" stroke-width="1.1"/>
<line x1="41.2" y1="282.9" x2="44.2" y2="282.9" stroke="#000" stroke-width="1.1"/>
<line x1="316.5" y1="282.9" x2="313.5" y2="282.9" stroke="#000" stroke-width="1.1"/>
<line x1="41.2" y1="279.56" x2="44.2" y2="279.56" stroke="#000" stroke-width="1.1"/>
<line x1="316.5" y1="279.56" x2="313.5" y2="279.56" stroke="#000" stroke-width="1.1"/>
<line x1="41.2" y1="276.22" x2="44.2" y2="276.22" stroke="#000" stroke-width="1.1"/>
<line x1="316.5" y1="276.22" x2="313.5" y2="276.22" stroke="#000" stroke-width="1.1"/>
<line x1="41.2" y1="272.88" x2="44.2" y2="272.88" stroke="#000" stroke-width="1.1"/>
<line x1="316.5" y1="272.88" x2="313.5" y2="272.88" stroke="#000" stroke-width="1.1"/>
<line x1="41.2" y1="269.54" x2="44.2" y2="269.54" stroke="#000" stroke-width="1.1"/>
<line x1="316.5" y1="269.54" x2="313.5" y2="269.54" stroke="#000" stroke-width="1.1"/>
<line x1="41.2" y1="266.2" x2="44.2" y2="266.2" stroke="#000" stroke-width="1.1"/>
<line x1="316.5" y1="266.2" x2="313.5" y2="266.2" stroke="#000" stroke-width="1.1"/>
<line x1="41.2" y1="262.86" x2="44.2" y2="262.86" stroke="#000" stroke-width="1.1"/>
<line x1="316.5" y1="262.86" x2="313.5" y2="262.86" stroke="#000" stroke-width="1.1"/>
<line x1="41.2" y1="259.52" x2="44.2" y2="259.52" stroke="#000" stroke-width="1.1"/>
<line x1="316.5" y1="259.52" x2="313.5" y2="259.52" stroke="#000" stroke-width="1.1"/>
<line x1="41.2" y1="256.18" x2="44.2" y2="256.18" stroke="#000" stroke-width="1.1"/>
<line x1="316.5" y1="256.18" x2="313.5" y2="256.18" stroke="#000" stroke-width="1.1"/>
<line x1="41.2" y1="252.84" x2="44.2" y2="252.84" stroke="#000" stroke-width="1.1"/>
<line x1="316.5" y1="252.84" x2="313.5" y2="252.84" stroke="#000" stroke-width="1.1"/>
<line x1="41.2" y1="249.5" x2="44.2" y2="249.5" stroke="#000" stroke-width="1.1"/>
<line x1="316.5" y1="249.5" x2="313.5" y2="249.5" stroke="#000" stroke-width="1.1"/>
<line x1="41.2" y1="246.16" x2="44.2" y2="246.16" stroke="#000" stroke-width="1.1"/>
<line x1="316.5" y1="246.16" x2="313.5" y2="246.16" stroke="#000" stroke-width="1.1"/>
<line x1="41.2" y1="282.9" x2="47.7" y2="282.9" stroke="#000" stroke-width="1.1"/>
<line x1="316.5" y1="282.9" x2="310" y2="282.9" stroke="#000" stroke-width="1.1"/>
<line x1="41.2" y1="266.2" x2="47.7" y2="266.2" stroke="#000" stroke-width="1.1"/>
<line x1="316.5" y1="266.2" x2="310" y2="266.2" stroke="#000" stroke-width="1.1"/>
<line x1="41.2" y1="249.5" x2="47.7" y2="249.5" stroke="#000" stroke-width="1.1"/>
<line x1="316.5" y1="249.5" x2="310" y2="249.5" stroke="#000" stroke-width="1.1"/>
<clipPath id="cl3"><rect x="405.2" y="3" width="275" height="236.6"/></clipPath>
<clipPath id="cl4"><rect x="405.2" y="243.3" width="275" height="45.7"/></clipPath>
<g clip-path="url(#cl3)">
<path d="M405.2,240.5 L405.2,232.5 L412.84,232.5 L412.84,219.3 L420.48,219.3 L420.48,206 L428.12,206 L428.12,190.7 L435.76,190.7 L435.76,180.5 L443.39,180.5 L443.39,168.6 L451.03,168.6 L451.03,155 L458.67,155 L458.67,140.6 L466.31,140.6 L466.31,129.6 L473.95,129.6 L473.95,116.3 L481.59,116.3 L481.59,105 L489.23,105 L489.23,90.6 L496.87,90.6 L496.87,90 L504.51,90 L504.51,93 L512.14,93 L512.14,101.9 L519.78,101.9 L519.78,109.7 L527.42,109.7 L527.42,122 L535.06,122 L535.06,137 L542.7,137 L542.7,151 L550.34,151 L550.34,168 L557.98,168 L557.98,181 L565.62,181 L565.62,195.5 L573.26,195.5 L573.26,204.5 L580.89,204.5 L580.89,214.4 L588.53,214.4 L588.53,222 L596.17,222 L596.17,227.6 L603.81,227.6 L603.81,231.1 L611.45,231.1 L611.45,234.5 L619.09,234.5 L619.09,236.3 L626.73,236.3 L626.73,237.3 L634.37,237.3 L634.37,238 L642.01,238 L642.01,238.6 L649.64,238.6 L649.64,238.9 L657.28,238.9 L657.28,239.15 L664.92,239.15 L664.92,239.3 L672.56,239.3 L672.56,239.45 L680.2,239.45 L680.2,240.5 Z" fill="#99ccff" stroke="#000" stroke-width="0.7"/>
<path d="M405.2,240.5 L405.2,239 L412.84,239 L412.84,238.3 L420.48,238.3 L420.48,237.7 L428.12,237.7 L428.12,237 L435.76,237 L435.76,236.2 L443.39,236.2 L443.39,235.7 L451.03,235.7 L451.03,235.3 L458.67,235.3 L458.67,235 L466.31,235 L466.31,234.5 L473.95,234.5 L473.95,233.8 L481.59,233.8 L481.59,233.6 L489.23,233.6 L489.23,232.9 L496.87,232.9 L496.87,232.8 L504.51,232.8 L504.51,232.8 L512.14,232.8 L512.14,233.5 L519.78,233.5 L519.78,233.7 L527.42,233.7 L527.42,234.6 L535.06,234.6 L535.06,234.8 L542.7,234.8 L542.7,235.7 L550.34,235.7 L550.34,236.2 L557.98,236.2 L557.98,236.6 L565.62,236.6 L565.62,236.8 L573.26,236.8 L573.26,237.2 L580.89,237.2 L580.89,238.2 L588.53,238.2 L588.53,238.8 L596.17,238.8 L596.17,239.1 L603.81,239.1 L603.81,239.3 L611.45,239.3 L611.45,239.4 L619.09,239.4 L619.09,239.5 L626.73,239.5 L626.73,239.5 L634.37,239.5 L634.37,239.6 L642.01,239.6 L642.01,239.6 L649.64,239.6 L649.64,239.6 L657.28,239.6 L657.28,239.6 L664.92,239.6 L664.92,239.6 L672.56,239.6 L672.56,239.6 L680.2,239.6 L680.2,240.5 Z" fill="#ff9933" stroke="#000" stroke-width="0.6"/>
<path d="M405.2,240.5 L405.2,239.3 L412.84,239.3 L412.84,238.9 L420.48,238.9 L420.48,238.4 L428.12,238.4 L428.12,237.8 L435.76,237.8 L435.76,237.3 L443.39,237.3 L443.39,237 L451.03,237 L451.03,236.8 L458.67,236.8 L458.67,236.6 L466.31,236.6 L466.31,236.3 L473.95,236.3 L473.95,236.2 L481.59,236.2 L481.59,236.1 L489.23,236.1 L489.23,236 L496.87,236 L496.87,235.9 L504.51,235.9 L504.51,235.9 L512.14,235.9 L512.14,236 L519.78,236 L519.78,236.1 L527.42,236.1 L527.42,236.3 L535.06,236.3 L535.06,236.6 L542.7,236.6 L542.7,237 L550.34,237 L550.34,237.3 L557.98,237.3 L557.98,237.5 L565.62,237.5 L565.62,237.7 L573.26,237.7 L573.26,238 L580.89,238 L580.89,238.6 L588.53,238.6 L588.53,239 L596.17,239 L596.17,239.2 L603.81,239.2 L603.81,239.4 L611.45,239.4 L611.45,239.5 L619.09,239.5 L619.09,239.6 L626.73,239.6 L626.73,239.6 L634.37,239.6 L634.37,239.6 L642.01,239.6 L642.01,239.6 L649.64,239.6 L649.64,239.6 L657.28,239.6 L657.28,239.6 L664.92,239.6 L664.92,239.6 L672.56,239.6 L672.56,239.6 L680.2,239.6 L680.2,240.5 Z" fill="#ffff66" stroke="#000" stroke-width="0.6"/>
<rect x="405.2" y="231.72" width="7.64" height="1.56" fill="url(#hatch)"/>
<rect x="412.84" y="217.07" width="7.64" height="4.47" fill="url(#hatch)"/>
<rect x="420.48" y="202.3" width="7.64" height="7.39" fill="url(#hatch)"/>
<rect x="428.12" y="185.32" width="7.64" height="10.76" fill="url(#hatch)"/>
<rect x="435.76" y="174" width="7.64" height="13" fill="url(#hatch)"/>
<rect x="443.39" y="160.79" width="7.64" height="15.62" fill="url(#hatch)"/>
<rect x="451.03" y="145.69" width="7.64" height="18.61" fill="url(#hatch)"/>
<rect x="458.67" y="129.71" width="7.64" height="21.78" fill="url(#hatch)"/>
<rect x="466.31" y="119.7" width="7.64" height="19.8" fill="url(#hatch)"/>
<rect x="473.95" y="105.2" width="7.64" height="22.19" fill="url(#hatch)"/>
<rect x="481.59" y="92.89" width="7.64" height="24.23" fill="url(#hatch)"/>
<rect x="489.23" y="73.47" width="7.64" height="34.27" fill="url(#hatch)"/>
<rect x="496.87" y="72.8" width="7.64" height="34.41" fill="url(#hatch)"/>
<rect x="504.51" y="79.81" width="7.64" height="26.39" fill="url(#hatch)"/>
<rect x="512.14" y="89.51" width="7.64" height="24.79" fill="url(#hatch)"/>
<rect x="519.78" y="98.01" width="7.64" height="23.38" fill="url(#hatch)"/>
<rect x="527.42" y="112" width="7.64" height="19.99" fill="url(#hatch)"/>
<rect x="535.06" y="128.28" width="7.64" height="17.44" fill="url(#hatch)"/>
<rect x="542.7" y="143.47" width="7.64" height="15.06" fill="url(#hatch)"/>
<rect x="550.34" y="161.91" width="7.64" height="12.17" fill="url(#hatch)"/>
<rect x="557.98" y="176.02" width="7.64" height="9.96" fill="url(#hatch)"/>
<rect x="565.62" y="191.53" width="7.64" height="7.94" fill="url(#hatch)"/>
<rect x="573.26" y="201.34" width="7.64" height="6.32" fill="url(#hatch)"/>
<rect x="580.89" y="212.13" width="7.64" height="4.54" fill="url(#hatch)"/>
<rect x="588.53" y="220.42" width="7.64" height="3.17" fill="url(#hatch)"/>
<rect x="596.17" y="226.52" width="7.64" height="2.16" fill="url(#hatch)"/>
<rect x="603.81" y="230.34" width="7.64" height="1.53" fill="url(#hatch)"/>
<rect x="611.45" y="234.04" width="7.64" height="0.92" fill="url(#hatch)"/>
<rect x="619.09" y="236" width="7.64" height="0.59" fill="url(#hatch)"/>
<rect x="626.73" y="237.09" width="7.64" height="0.41" fill="url(#hatch)"/>
<rect x="634.37" y="237.86" width="7.64" height="0.29" fill="url(#hatch)"/>
<rect x="642.01" y="238.51" width="7.64" height="0.18" fill="url(#hatch)"/>
<rect x="649.64" y="238.84" width="7.64" height="0.13" fill="url(#hatch)"/>
<rect x="657.28" y="239.11" width="7.64" height="0.08" fill="url(#hatch)"/>
<rect x="664.92" y="239.27" width="7.64" height="0.05" fill="url(#hatch)"/>
<rect x="672.56" y="239.44" width="7.64" height="0.03" fill="url(#hatch)"/>
<line x1="409.02" y1="231.63" x2="409.02" y2="232.77" stroke="#000" stroke-width="0.9"/>
<line x1="405.2" y1="232.2" x2="412.84" y2="232.2" stroke="#000" stroke-width="0.9"/>
<circle cx="409.02" cy="232.2" r="1.35" fill="#000"/>
<line x1="416.66" y1="219.99" x2="416.66" y2="221.81" stroke="#000" stroke-width="0.9"/>
<line x1="412.84" y1="220.9" x2="420.48" y2="220.9" stroke="#000" stroke-width="0.9"/>
<circle cx="416.66" cy="220.9" r="1.35" fill="#000"/>
<line x1="424.3" y1="207.84" x2="424.3" y2="210.16" stroke="#000" stroke-width="0.9"/>
<line x1="420.48" y1="209" x2="428.12" y2="209" stroke="#000" stroke-width="0.9"/>
<circle cx="424.3" cy="209" r="1.35" fill="#000"/>
<line x1="431.94" y1="195.63" x2="431.94" y2="198.37" stroke="#000" stroke-width="0.9"/>
<line x1="428.12" y1="197" x2="435.76" y2="197" stroke="#000" stroke-width="0.9"/>
<circle cx="431.94" cy="197" r="1.35" fill="#000"/>
<line x1="439.57" y1="184.77" x2="439.57" y2="187.83" stroke="#000" stroke-width="0.9"/>
<line x1="435.76" y1="186.3" x2="443.39" y2="186.3" stroke="#000" stroke-width="0.9"/>
<circle cx="439.57" cy="186.3" r="1.35" fill="#000"/>
<line x1="447.21" y1="173.11" x2="447.21" y2="176.49" stroke="#000" stroke-width="0.9"/>
<line x1="443.39" y1="174.8" x2="451.03" y2="174.8" stroke="#000" stroke-width="0.9"/>
<circle cx="447.21" cy="174.8" r="1.35" fill="#000"/>
<line x1="454.85" y1="158.43" x2="454.85" y2="162.17" stroke="#000" stroke-width="0.9"/>
<line x1="451.03" y1="160.3" x2="458.67" y2="160.3" stroke="#000" stroke-width="0.9"/>
<circle cx="454.85" cy="160.3" r="1.35" fill="#000"/>
<line x1="462.49" y1="147.61" x2="462.49" y2="151.59" stroke="#000" stroke-width="0.9"/>
<line x1="458.67" y1="149.6" x2="466.31" y2="149.6" stroke="#000" stroke-width="0.9"/>
<circle cx="462.49" cy="149.6" r="1.35" fill="#000"/>
<line x1="470.13" y1="136.39" x2="470.13" y2="140.61" stroke="#000" stroke-width="0.9"/>
<line x1="466.31" y1="138.5" x2="473.95" y2="138.5" stroke="#000" stroke-width="0.9"/>
<circle cx="470.13" cy="138.5" r="1.35" fill="#000"/>
<line x1="477.77" y1="118.51" x2="477.77" y2="123.09" stroke="#000" stroke-width="0.9"/>
<line x1="473.95" y1="120.8" x2="481.59" y2="120.8" stroke="#000" stroke-width="0.9"/>
<circle cx="477.77" cy="120.8" r="1.35" fill="#000"/>
<line x1="485.41" y1="107.41" x2="485.41" y2="112.19" stroke="#000" stroke-width="0.9"/>
<line x1="481.59" y1="109.8" x2="489.23" y2="109.8" stroke="#000" stroke-width="0.9"/>
<circle cx="485.41" cy="109.8" r="1.35" fill="#000"/>
<line x1="493.05" y1="94.8" x2="493.05" y2="99.8" stroke="#000" stroke-width="0.9"/>
<line x1="489.23" y1="97.3" x2="496.87" y2="97.3" stroke="#000" stroke-width="0.9"/>
<circle cx="493.05" cy="97.3" r="1.35" fill="#000"/>
<line x1="500.69" y1="93.99" x2="500.69" y2="99.01" stroke="#000" stroke-width="0.9"/>
<line x1="496.87" y1="96.5" x2="504.51" y2="96.5" stroke="#000" stroke-width="0.9"/>
<circle cx="500.69" cy="96.5" r="1.35" fill="#000"/>
<line x1="508.32" y1="95.5" x2="508.32" y2="100.5" stroke="#000" stroke-width="0.9"/>
<line x1="504.51" y1="98" x2="512.14" y2="98" stroke="#000" stroke-width="0.9"/>
<circle cx="508.32" cy="98" r="1.35" fill="#000"/>
<line x1="515.96" y1="102.97" x2="515.96" y2="107.83" stroke="#000" stroke-width="0.9"/>
<line x1="512.14" y1="105.4" x2="519.78" y2="105.4" stroke="#000" stroke-width="0.9"/>
<circle cx="515.96" cy="105.4" r="1.35" fill="#000"/>
<line x1="523.6" y1="111.45" x2="523.6" y2="116.15" stroke="#000" stroke-width="0.9"/>
<line x1="519.78" y1="113.8" x2="527.42" y2="113.8" stroke="#000" stroke-width="0.9"/>
<circle cx="523.6" cy="113.8" r="1.35" fill="#000"/>
<line x1="531.24" y1="119.93" x2="531.24" y2="124.47" stroke="#000" stroke-width="0.9"/>
<line x1="527.42" y1="122.2" x2="535.06" y2="122.2" stroke="#000" stroke-width="0.9"/>
<circle cx="531.24" cy="122.2" r="1.35" fill="#000"/>
<line x1="538.88" y1="137.7" x2="538.88" y2="141.9" stroke="#000" stroke-width="0.9"/>
<line x1="535.06" y1="139.8" x2="542.7" y2="139.8" stroke="#000" stroke-width="0.9"/>
<circle cx="538.88" cy="139.8" r="1.35" fill="#000"/>
<line x1="546.52" y1="150.44" x2="546.52" y2="154.36" stroke="#000" stroke-width="0.9"/>
<line x1="542.7" y1="152.4" x2="550.34" y2="152.4" stroke="#000" stroke-width="0.9"/>
<circle cx="546.52" cy="152.4" r="1.35" fill="#000"/>
<line x1="554.16" y1="165.01" x2="554.16" y2="168.59" stroke="#000" stroke-width="0.9"/>
<line x1="550.34" y1="166.8" x2="557.98" y2="166.8" stroke="#000" stroke-width="0.9"/>
<circle cx="554.16" cy="166.8" r="1.35" fill="#000"/>
<line x1="561.8" y1="176.56" x2="561.8" y2="179.84" stroke="#000" stroke-width="0.9"/>
<line x1="557.98" y1="178.2" x2="565.62" y2="178.2" stroke="#000" stroke-width="0.9"/>
<circle cx="561.8" cy="178.2" r="1.35" fill="#000"/>
<line x1="569.44" y1="194.28" x2="569.44" y2="197.06" stroke="#000" stroke-width="0.9"/>
<line x1="565.62" y1="195.67" x2="573.26" y2="195.67" stroke="#000" stroke-width="0.9"/>
<circle cx="569.44" cy="195.67" r="1.35" fill="#000"/>
<line x1="577.08" y1="203.09" x2="577.08" y2="205.58" stroke="#000" stroke-width="0.9"/>
<line x1="573.26" y1="204.33" x2="580.89" y2="204.33" stroke="#000" stroke-width="0.9"/>
<circle cx="577.08" cy="204.33" r="1.35" fill="#000"/>
<line x1="584.71" y1="212.47" x2="584.71" y2="214.62" stroke="#000" stroke-width="0.9"/>
<line x1="580.89" y1="213.54" x2="588.53" y2="213.54" stroke="#000" stroke-width="0.9"/>
<circle cx="584.71" cy="213.54" r="1.35" fill="#000"/>
<line x1="592.35" y1="221.17" x2="592.35" y2="222.93" stroke="#000" stroke-width="0.9"/>
<line x1="588.53" y1="222.05" x2="596.17" y2="222.05" stroke="#000" stroke-width="0.9"/>
<circle cx="592.35" cy="222.05" r="1.35" fill="#000"/>
<line x1="599.99" y1="226.87" x2="599.99" y2="228.32" stroke="#000" stroke-width="0.9"/>
<line x1="596.17" y1="227.59" x2="603.81" y2="227.59" stroke="#000" stroke-width="0.9"/>
<circle cx="599.99" cy="227.59" r="1.35" fill="#000"/>
<line x1="607.63" y1="230.43" x2="607.63" y2="231.65" stroke="#000" stroke-width="0.9"/>
<line x1="603.81" y1="231.04" x2="611.45" y2="231.04" stroke="#000" stroke-width="0.9"/>
<circle cx="607.63" cy="231.04" r="1.35" fill="#000"/>
<line x1="615.27" y1="235.26" x2="615.27" y2="236.09" stroke="#000" stroke-width="0.9"/>
<line x1="611.45" y1="235.67" x2="619.09" y2="235.67" stroke="#000" stroke-width="0.9"/>
<circle cx="615.27" cy="235.67" r="1.35" fill="#000"/>
<line x1="622.91" y1="236.51" x2="622.91" y2="237.21" stroke="#000" stroke-width="0.9"/>
<line x1="619.09" y1="236.86" x2="626.73" y2="236.86" stroke="#000" stroke-width="0.9"/>
<circle cx="622.91" cy="236.86" r="1.35" fill="#000"/>
<line x1="630.55" y1="236.96" x2="630.55" y2="237.6" stroke="#000" stroke-width="0.9"/>
<line x1="626.73" y1="237.28" x2="634.37" y2="237.28" stroke="#000" stroke-width="0.9"/>
<circle cx="630.55" cy="237.28" r="1.35" fill="#000"/>
<line x1="638.19" y1="237.49" x2="638.19" y2="238.06" stroke="#000" stroke-width="0.9"/>
<line x1="634.37" y1="237.78" x2="642.01" y2="237.78" stroke="#000" stroke-width="0.9"/>
<circle cx="638.19" cy="237.78" r="1.35" fill="#000"/>
<line x1="645.83" y1="238.76" x2="645.83" y2="239.1" stroke="#000" stroke-width="0.9"/>
<line x1="642.01" y1="238.93" x2="649.64" y2="238.93" stroke="#000" stroke-width="0.9"/>
<circle cx="645.83" cy="238.93" r="1.35" fill="#000"/>
<line x1="653.46" y1="238.61" x2="653.46" y2="238.99" stroke="#000" stroke-width="0.9"/>
<line x1="649.64" y1="238.8" x2="657.28" y2="238.8" stroke="#000" stroke-width="0.9"/>
<circle cx="653.46" cy="238.8" r="1.35" fill="#000"/>
<line x1="661.1" y1="239.25" x2="661.1" y2="239.46" stroke="#000" stroke-width="0.9"/>
<line x1="657.28" y1="239.35" x2="664.92" y2="239.35" stroke="#000" stroke-width="0.9"/>
<circle cx="661.1" cy="239.35" r="1.35" fill="#000"/>
<line x1="668.74" y1="239.18" x2="668.74" y2="239.41" stroke="#000" stroke-width="0.9"/>
<line x1="664.92" y1="239.29" x2="672.56" y2="239.29" stroke="#000" stroke-width="0.9"/>
<circle cx="668.74" cy="239.29" r="1.35" fill="#000"/>
<line x1="676.38" y1="239.37" x2="676.38" y2="239.53" stroke="#000" stroke-width="0.9"/>
<line x1="672.56" y1="239.45" x2="680.2" y2="239.45" stroke="#000" stroke-width="0.9"/>
<circle cx="676.38" cy="239.45" r="1.35" fill="#000"/>
</g>
<g clip-path="url(#cl4)">
<rect x="405.2" y="262.62" width="7.64" height="6.76" fill="url(#hatch2)"/>
<rect x="412.84" y="262.62" width="7.64" height="6.76" fill="url(#hatch2)"/>
<rect x="420.48" y="262.62" width="7.64" height="6.76" fill="url(#hatch2)"/>
<rect x="428.12" y="262.62" width="7.64" height="6.76" fill="url(#hatch2)"/>
<rect x="435.76" y="262.62" width="7.64" height="6.76" fill="url(#hatch2)"/>
<rect x="443.39" y="262.62" width="7.64" height="6.76" fill="url(#hatch2)"/>
<rect x="451.03" y="262.62" width="7.64" height="6.76" fill="url(#hatch2)"/>
<rect x="458.67" y="262.62" width="7.64" height="6.76" fill="url(#hatch2)"/>
<rect x="466.31" y="262.62" width="7.64" height="6.76" fill="url(#hatch2)"/>
<rect x="473.95" y="262.62" width="7.64" height="6.76" fill="url(#hatch2)"/>
<rect x="481.59" y="262.62" width="7.64" height="6.76" fill="url(#hatch2)"/>
<rect x="489.23" y="262.62" width="7.64" height="6.76" fill="url(#hatch2)"/>
<rect x="496.87" y="262.62" width="7.64" height="6.76" fill="url(#hatch2)"/>
<rect x="504.51" y="262.62" width="7.64" height="6.76" fill="url(#hatch2)"/>
<rect x="512.14" y="262.62" width="7.64" height="6.76" fill="url(#hatch2)"/>
<rect x="519.78" y="262.62" width="7.64" height="6.76" fill="url(#hatch2)"/>
<rect x="527.42" y="262.62" width="7.64" height="6.76" fill="url(#hatch2)"/>
<rect x="535.06" y="262.62" width="7.64" height="6.76" fill="url(#hatch2)"/>
<rect x="542.7" y="262.62" width="7.64" height="6.76" fill="url(#hatch2)"/>
<rect x="550.34" y="262.62" width="7.64" height="6.76" fill="url(#hatch2)"/>
<rect x="557.98" y="262.62" width="7.64" height="6.76" fill="url(#hatch2)"/>
<rect x="565.62" y="262.62" width="7.64" height="6.76" fill="url(#hatch2)"/>
<rect x="573.26" y="262.62" width="7.64" height="6.76" fill="url(#hatch2)"/>
<rect x="580.89" y="262.62" width="7.64" height="6.76" fill="url(#hatch2)"/>
<rect x="588.53" y="262.62" width="7.64" height="6.76" fill="url(#hatch2)"/>
<rect x="596.17" y="262.62" width="7.64" height="6.76" fill="url(#hatch2)"/>
<rect x="603.81" y="262.62" width="7.64" height="6.76" fill="url(#hatch2)"/>
<rect x="611.45" y="262.62" width="7.64" height="6.76" fill="url(#hatch2)"/>
<rect x="619.09" y="262.62" width="7.64" height="6.76" fill="url(#hatch2)"/>
<rect x="626.73" y="262.62" width="7.64" height="6.76" fill="url(#hatch2)"/>
<rect x="634.37" y="262.62" width="7.64" height="6.76" fill="url(#hatch2)"/>
<rect x="642.01" y="262.62" width="7.64" height="6.76" fill="url(#hatch2)"/>
<rect x="649.64" y="262.62" width="7.64" height="6.76" fill="url(#hatch2)"/>
<rect x="657.28" y="262.62" width="7.64" height="6.76" fill="url(#hatch2)"/>
<rect x="664.92" y="262.62" width="7.64" height="6.76" fill="url(#hatch2)"/>
<rect x="672.56" y="262.62" width="7.64" height="6.76" fill="url(#hatch2)"/>
<line x1="409.02" y1="262.9" x2="409.02" y2="266.91" stroke="#000" stroke-width="0.9"/>
<line x1="405.2" y1="264.9" x2="412.84" y2="264.9" stroke="#000" stroke-width="0.9"/>
<circle cx="409.02" cy="264.9" r="1.35" fill="#000"/>
<line x1="416.66" y1="266.79" x2="416.66" y2="269.31" stroke="#000" stroke-width="0.9"/>
<line x1="412.84" y1="268.05" x2="420.48" y2="268.05" stroke="#000" stroke-width="0.9"/>
<circle cx="416.66" cy="268.05" r="1.35" fill="#000"/>
<line x1="424.3" y1="267.34" x2="424.3" y2="269.31" stroke="#000" stroke-width="0.9"/>
<line x1="420.48" y1="268.32" x2="428.12" y2="268.32" stroke="#000" stroke-width="0.9"/>
<circle cx="424.3" cy="268.32" r="1.35" fill="#000"/>
<line x1="431.94" y1="268.51" x2="431.94" y2="270.19" stroke="#000" stroke-width="0.9"/>
<line x1="428.12" y1="269.35" x2="435.76" y2="269.35" stroke="#000" stroke-width="0.9"/>
<circle cx="431.94" cy="269.35" r="1.35" fill="#000"/>
<line x1="439.57" y1="267.8" x2="439.57" y2="269.3" stroke="#000" stroke-width="0.9"/>
<line x1="435.76" y1="268.55" x2="443.39" y2="268.55" stroke="#000" stroke-width="0.9"/>
<circle cx="439.57" cy="268.55" r="1.35" fill="#000"/>
<line x1="447.21" y1="267.59" x2="447.21" y2="268.95" stroke="#000" stroke-width="0.9"/>
<line x1="443.39" y1="268.27" x2="451.03" y2="268.27" stroke="#000" stroke-width="0.9"/>
<circle cx="447.21" cy="268.27" r="1.35" fill="#000"/>
<line x1="454.85" y1="267.02" x2="454.85" y2="268.24" stroke="#000" stroke-width="0.9"/>
<line x1="451.03" y1="267.63" x2="458.67" y2="267.63" stroke="#000" stroke-width="0.9"/>
<circle cx="454.85" cy="267.63" r="1.35" fill="#000"/>
<line x1="462.49" y1="267.79" x2="462.49" y2="268.94" stroke="#000" stroke-width="0.9"/>
<line x1="458.67" y1="268.36" x2="466.31" y2="268.36" stroke="#000" stroke-width="0.9"/>
<circle cx="462.49" cy="268.36" r="1.35" fill="#000"/>
<line x1="470.13" y1="267.56" x2="470.13" y2="268.65" stroke="#000" stroke-width="0.9"/>
<line x1="466.31" y1="268.1" x2="473.95" y2="268.1" stroke="#000" stroke-width="0.9"/>
<circle cx="470.13" cy="268.1" r="1.35" fill="#000"/>
<line x1="477.77" y1="266.45" x2="477.77" y2="267.45" stroke="#000" stroke-width="0.9"/>
<line x1="473.95" y1="266.95" x2="481.59" y2="266.95" stroke="#000" stroke-width="0.9"/>
<circle cx="477.77" cy="266.95" r="1.35" fill="#000"/>
<line x1="485.41" y1="266.45" x2="485.41" y2="267.41" stroke="#000" stroke-width="0.9"/>
<line x1="481.59" y1="266.93" x2="489.23" y2="266.93" stroke="#000" stroke-width="0.9"/>
<circle cx="485.41" cy="266.93" r="1.35" fill="#000"/>
<line x1="493.05" y1="266.71" x2="493.05" y2="267.63" stroke="#000" stroke-width="0.9"/>
<line x1="489.23" y1="267.17" x2="496.87" y2="267.17" stroke="#000" stroke-width="0.9"/>
<circle cx="493.05" cy="267.17" r="1.35" fill="#000"/>
<line x1="500.69" y1="266.67" x2="500.69" y2="267.59" stroke="#000" stroke-width="0.9"/>
<line x1="496.87" y1="267.13" x2="504.51" y2="267.13" stroke="#000" stroke-width="0.9"/>
<circle cx="500.69" cy="267.13" r="1.35" fill="#000"/>
<line x1="508.32" y1="266.43" x2="508.32" y2="267.35" stroke="#000" stroke-width="0.9"/>
<line x1="504.51" y1="266.89" x2="512.14" y2="266.89" stroke="#000" stroke-width="0.9"/>
<circle cx="508.32" cy="266.89" r="1.35" fill="#000"/>
<line x1="515.96" y1="266.19" x2="515.96" y2="267.13" stroke="#000" stroke-width="0.9"/>
<line x1="512.14" y1="266.66" x2="519.78" y2="266.66" stroke="#000" stroke-width="0.9"/>
<circle cx="515.96" cy="266.66" r="1.35" fill="#000"/>
<line x1="523.6" y1="266.33" x2="523.6" y2="267.31" stroke="#000" stroke-width="0.9"/>
<line x1="519.78" y1="266.82" x2="527.42" y2="266.82" stroke="#000" stroke-width="0.9"/>
<circle cx="523.6" cy="266.82" r="1.35" fill="#000"/>
<line x1="531.24" y1="265.54" x2="531.24" y2="266.55" stroke="#000" stroke-width="0.9"/>
<line x1="527.42" y1="266.04" x2="535.06" y2="266.04" stroke="#000" stroke-width="0.9"/>
<circle cx="531.24" cy="266.04" r="1.35" fill="#000"/>
<line x1="538.88" y1="266.16" x2="538.88" y2="267.26" stroke="#000" stroke-width="0.9"/>
<line x1="535.06" y1="266.71" x2="542.7" y2="266.71" stroke="#000" stroke-width="0.9"/>
<circle cx="538.88" cy="266.71" r="1.35" fill="#000"/>
<line x1="546.52" y1="265.83" x2="546.52" y2="266.99" stroke="#000" stroke-width="0.9"/>
<line x1="542.7" y1="266.41" x2="550.34" y2="266.41" stroke="#000" stroke-width="0.9"/>
<circle cx="546.52" cy="266.41" r="1.35" fill="#000"/>
<line x1="554.16" y1="264.93" x2="554.16" y2="266.2" stroke="#000" stroke-width="0.9"/>
<line x1="550.34" y1="265.56" x2="557.98" y2="265.56" stroke="#000" stroke-width="0.9"/>
<circle cx="554.16" cy="265.56" r="1.35" fill="#000"/>
<line x1="561.8" y1="264.06" x2="561.8" y2="265.45" stroke="#000" stroke-width="0.9"/>
<line x1="557.98" y1="264.76" x2="565.62" y2="264.76" stroke="#000" stroke-width="0.9"/>
<circle cx="561.8" cy="264.76" r="1.35" fill="#000"/>
<line x1="569.44" y1="265.28" x2="569.44" y2="266.92" stroke="#000" stroke-width="0.9"/>
<line x1="565.62" y1="266.1" x2="573.26" y2="266.1" stroke="#000" stroke-width="0.9"/>
<circle cx="569.44" cy="266.1" r="1.35" fill="#000"/>
<line x1="577.08" y1="264.96" x2="577.08" y2="266.79" stroke="#000" stroke-width="0.9"/>
<line x1="573.26" y1="265.88" x2="580.89" y2="265.88" stroke="#000" stroke-width="0.9"/>
<circle cx="577.08" cy="265.88" r="1.35" fill="#000"/>
<line x1="584.71" y1="264.05" x2="584.71" y2="266.19" stroke="#000" stroke-width="0.9"/>
<line x1="580.89" y1="265.12" x2="588.53" y2="265.12" stroke="#000" stroke-width="0.9"/>
<circle cx="584.71" cy="265.12" r="1.35" fill="#000"/>
<line x1="592.35" y1="264.77" x2="592.35" y2="267.37" stroke="#000" stroke-width="0.9"/>
<line x1="588.53" y1="266.07" x2="596.17" y2="266.07" stroke="#000" stroke-width="0.9"/>
<circle cx="592.35" cy="266.07" r="1.35" fill="#000"/>
<line x1="599.99" y1="264.41" x2="599.99" y2="267.56" stroke="#000" stroke-width="0.9"/>
<line x1="596.17" y1="265.98" x2="603.81" y2="265.98" stroke="#000" stroke-width="0.9"/>
<circle cx="599.99" cy="265.98" r="1.35" fill="#000"/>
<line x1="607.63" y1="263.95" x2="607.63" y2="267.68" stroke="#000" stroke-width="0.9"/>
<line x1="603.81" y1="265.82" x2="611.45" y2="265.82" stroke="#000" stroke-width="0.9"/>
<circle cx="607.63" cy="265.82" r="1.35" fill="#000"/>
<line x1="615.27" y1="269.23" x2="615.27" y2="274.73" stroke="#000" stroke-width="0.9"/>
<line x1="611.45" y1="271.98" x2="619.09" y2="271.98" stroke="#000" stroke-width="0.9"/>
<circle cx="615.27" cy="271.98" r="1.35" fill="#000"/>
<line x1="622.91" y1="267.12" x2="622.91" y2="273.72" stroke="#000" stroke-width="0.9"/>
<line x1="619.09" y1="270.42" x2="626.73" y2="270.42" stroke="#000" stroke-width="0.9"/>
<circle cx="622.91" cy="270.42" r="1.35" fill="#000"/>
<line x1="630.55" y1="262.15" x2="630.55" y2="269.31" stroke="#000" stroke-width="0.9"/>
<line x1="626.73" y1="265.73" x2="634.37" y2="265.73" stroke="#000" stroke-width="0.9"/>
<circle cx="630.55" cy="265.73" r="1.35" fill="#000"/>
<line x1="638.19" y1="258.32" x2="638.19" y2="266.4" stroke="#000" stroke-width="0.9"/>
<line x1="634.37" y1="262.36" x2="642.01" y2="262.36" stroke="#000" stroke-width="0.9"/>
<circle cx="638.19" cy="262.36" r="1.35" fill="#000"/>
<line x1="645.83" y1="267.92" x2="645.83" y2="281.24" stroke="#000" stroke-width="0.9"/>
<line x1="642.01" y1="274.58" x2="649.64" y2="274.58" stroke="#000" stroke-width="0.9"/>
<circle cx="645.83" cy="274.58" r="1.35" fill="#000"/>
<line x1="653.46" y1="246.24" x2="653.46" y2="278.48" stroke="#000" stroke-width="0.9"/>
<line x1="649.64" y1="262.36" x2="657.28" y2="262.36" stroke="#000" stroke-width="0.9"/>
<circle cx="653.46" cy="262.36" r="1.35" fill="#000"/>
<line x1="661.1" y1="266.74" x2="661.1" y2="288.66" stroke="#000" stroke-width="0.9"/>
<line x1="657.28" y1="277.7" x2="664.92" y2="277.7" stroke="#000" stroke-width="0.9"/>
<circle cx="661.1" cy="277.7" r="1.35" fill="#000"/>
<line x1="669.0" y1="243" x2="669.0" y2="284.7" stroke="#222" stroke-width="0.9"/>
</g>
<rect x="405.2" y="3" width="275" height="236.6" fill="none" stroke="#000" stroke-width="1.1"/>
<line x1="411.31" y1="239.6" x2="411.31" y2="236.2" stroke="#000" stroke-width="1.1"/>
<line x1="411.31" y1="3" x2="411.31" y2="6.4" stroke="#000" stroke-width="1.1"/>
<line x1="417.42" y1="239.6" x2="417.42" y2="236.2" stroke="#000" stroke-width="1.1"/>
<line x1="417.42" y1="3" x2="417.42" y2="6.4" stroke="#000" stroke-width="1.1"/>
<line x1="423.53" y1="239.6" x2="423.53" y2="236.2" stroke="#000" stroke-width="1.1"/>
<line x1="423.53" y1="3" x2="423.53" y2="6.4" stroke="#000" stroke-width="1.1"/>
<line x1="429.64" y1="239.6" x2="429.64" y2="236.2" stroke="#000" stroke-width="1.1"/>
<line x1="429.64" y1="3" x2="429.64" y2="6.4" stroke="#000" stroke-width="1.1"/>
<line x1="435.76" y1="239.6" x2="435.76" y2="236.2" stroke="#000" stroke-width="1.1"/>
<line x1="435.76" y1="3" x2="435.76" y2="6.4" stroke="#000" stroke-width="1.1"/>
<line x1="441.87" y1="239.6" x2="441.87" y2="236.2" stroke="#000" stroke-width="1.1"/>
<line x1="441.87" y1="3" x2="441.87" y2="6.4" stroke="#000" stroke-width="1.1"/>
<line x1="447.98" y1="239.6" x2="447.98" y2="236.2" stroke="#000" stroke-width="1.1"/>
<line x1="447.98" y1="3" x2="447.98" y2="6.4" stroke="#000" stroke-width="1.1"/>
<line x1="454.09" y1="239.6" x2="454.09" y2="236.2" stroke="#000" stroke-width="1.1"/>
<line x1="454.09" y1="3" x2="454.09" y2="6.4" stroke="#000" stroke-width="1.1"/>
<line x1="460.2" y1="239.6" x2="460.2" y2="236.2" stroke="#000" stroke-width="1.1"/>
<line x1="460.2" y1="3" x2="460.2" y2="6.4" stroke="#000" stroke-width="1.1"/>
<line x1="466.31" y1="239.6" x2="466.31" y2="236.2" stroke="#000" stroke-width="1.1"/>
<line x1="466.31" y1="3" x2="466.31" y2="6.4" stroke="#000" stroke-width="1.1"/>
<line x1="472.42" y1="239.6" x2="472.42" y2="236.2" stroke="#000" stroke-width="1.1"/>
<line x1="472.42" y1="3" x2="472.42" y2="6.4" stroke="#000" stroke-width="1.1"/>
<line x1="478.53" y1="239.6" x2="478.53" y2="236.2" stroke="#000" stroke-width="1.1"/>
<line x1="478.53" y1="3" x2="478.53" y2="6.4" stroke="#000" stroke-width="1.1"/>
<line x1="484.64" y1="239.6" x2="484.64" y2="236.2" stroke="#000" stroke-width="1.1"/>
<line x1="484.64" y1="3" x2="484.64" y2="6.4" stroke="#000" stroke-width="1.1"/>
<line x1="490.76" y1="239.6" x2="490.76" y2="236.2" stroke="#000" stroke-width="1.1"/>
<line x1="490.76" y1="3" x2="490.76" y2="6.4" stroke="#000" stroke-width="1.1"/>
<line x1="496.87" y1="239.6" x2="496.87" y2="236.2" stroke="#000" stroke-width="1.1"/>
<line x1="496.87" y1="3" x2="496.87" y2="6.4" stroke="#000" stroke-width="1.1"/>
<line x1="502.98" y1="239.6" x2="502.98" y2="236.2" stroke="#000" stroke-width="1.1"/>
<line x1="502.98" y1="3" x2="502.98" y2="6.4" stroke="#000" stroke-width="1.1"/>
<line x1="509.09" y1="239.6" x2="509.09" y2="236.2" stroke="#000" stroke-width="1.1"/>
<line x1="509.09" y1="3" x2="509.09" y2="6.4" stroke="#000" stroke-width="1.1"/>
<line x1="515.2" y1="239.6" x2="515.2" y2="236.2" stroke="#000" stroke-width="1.1"/>
<line x1="515.2" y1="3" x2="515.2" y2="6.4" stroke="#000" stroke-width="1.1"/>
<line x1="521.31" y1="239.6" x2="521.31" y2="236.2" stroke="#000" stroke-width="1.1"/>
<line x1="521.31" y1="3" x2="521.31" y2="6.4" stroke="#000" stroke-width="1.1"/>
<line x1="527.42" y1="239.6" x2="527.42" y2="236.2" stroke="#000" stroke-width="1.1"/>
<line x1="527.42" y1="3" x2="527.42" y2="6.4" stroke="#000" stroke-width="1.1"/>
<line x1="533.53" y1="239.6" x2="533.53" y2="236.2" stroke="#000" stroke-width="1.1"/>
<line x1="533.53" y1="3" x2="533.53" y2="6.4" stroke="#000" stroke-width="1.1"/>
<line x1="539.64" y1="239.6" x2="539.64" y2="236.2" stroke="#000" stroke-width="1.1"/>
<line x1="539.64" y1="3" x2="539.64" y2="6.4" stroke="#000" stroke-width="1.1"/>
<line x1="545.76" y1="239.6" x2="545.76" y2="236.2" stroke="#000" stroke-width="1.1"/>
<line x1="545.76" y1="3" x2="545.76" y2="6.4" stroke="#000" stroke-width="1.1"/>
<line x1="551.87" y1="239.6" x2="551.87" y2="236.2" stroke="#000" stroke-width="1.1"/>
<line x1="551.87" y1="3" x2="551.87" y2="6.4" stroke="#000" stroke-width="1.1"/>
<line x1="557.98" y1="239.6" x2="557.98" y2="236.2" stroke="#000" stroke-width="1.1"/>
<line x1="557.98" y1="3" x2="557.98" y2="6.4" stroke="#000" stroke-width="1.1"/>
<line x1="564.09" y1="239.6" x2="564.09" y2="236.2" stroke="#000" stroke-width="1.1"/>
<line x1="564.09" y1="3" x2="564.09" y2="6.4" stroke="#000" stroke-width="1.1"/>
<line x1="570.2" y1="239.6" x2="570.2" y2="236.2" stroke="#000" stroke-width="1.1"/>
<line x1="570.2" y1="3" x2="570.2" y2="6.4" stroke="#000" stroke-width="1.1"/>
<line x1="576.31" y1="239.6" x2="576.31" y2="236.2" stroke="#000" stroke-width="1.1"/>
<line x1="576.31" y1="3" x2="576.31" y2="6.4" stroke="#000" stroke-width="1.1"/>
<line x1="582.42" y1="239.6" x2="582.42" y2="236.2" stroke="#000" stroke-width="1.1"/>
<line x1="582.42" y1="3" x2="582.42" y2="6.4" stroke="#000" stroke-width="1.1"/>
<line x1="588.53" y1="239.6" x2="588.53" y2="236.2" stroke="#000" stroke-width="1.1"/>
<line x1="588.53" y1="3" x2="588.53" y2="6.4" stroke="#000" stroke-width="1.1"/>
<line x1="594.64" y1="239.6" x2="594.64" y2="236.2" stroke="#000" stroke-width="1.1"/>
<line x1="594.64" y1="3" x2="594.64" y2="6.4" stroke="#000" stroke-width="1.1"/>
<line x1="600.76" y1="239.6" x2="600.76" y2="236.2" stroke="#000" stroke-width="1.1"/>
<line x1="600.76" y1="3" x2="600.76" y2="6.4" stroke="#000" stroke-width="1.1"/>
<line x1="606.87" y1="239.6" x2="606.87" y2="236.2" stroke="#000" stroke-width="1.1"/>
<line x1="606.87" y1="3" x2="606.87" y2="6.4" stroke="#000" stroke-width="1.1"/>
<line x1="612.98" y1="239.6" x2="612.98" y2="236.2" stroke="#000" stroke-width="1.1"/>
<line x1="612.98" y1="3" x2="612.98" y2="6.4" stroke="#000" stroke-width="1.1"/>
<line x1="619.09" y1="239.6" x2="619.09" y2="236.2" stroke="#000" stroke-width="1.1"/>
<line x1="619.09" y1="3" x2="619.09" y2="6.4" stroke="#000" stroke-width="1.1"/>
<line x1="625.2" y1="239.6" x2="625.2" y2="236.2" stroke="#000" stroke-width="1.1"/>
<line x1="625.2" y1="3" x2="625.2" y2="6.4" stroke="#000" stroke-width="1.1"/>
<line x1="631.31" y1="239.6" x2="631.31" y2="236.2" stroke="#000" stroke-width="1.1"/>
<line x1="631.31" y1="3" x2="631.31" y2="6.4" stroke="#000" stroke-width="1.1"/>
<line x1="637.42" y1="239.6" x2="637.42" y2="236.2" stroke="#000" stroke-width="1.1"/>
<line x1="637.42" y1="3" x2="637.42" y2="6.4" stroke="#000" stroke-width="1.1"/>
<line x1="643.53" y1="239.6" x2="643.53" y2="236.2" stroke="#000" stroke-width="1.1"/>
<line x1="643.53" y1="3" x2="643.53" y2="6.4" stroke="#000" stroke-width="1.1"/>
<line x1="649.64" y1="239.6" x2="649.64" y2="236.2" stroke="#000" stroke-width="1.1"/>
<line x1="649.64" y1="3" x2="649.64" y2="6.4" stroke="#000" stroke-width="1.1"/>
<line x1="655.76" y1="239.6" x2="655.76" y2="236.2" stroke="#000" stroke-width="1.1"/>
<line x1="655.76" y1="3" x2="655.76" y2="6.4" stroke="#000" stroke-width="1.1"/>
<line x1="661.87" y1="239.6" x2="661.87" y2="236.2" stroke="#000" stroke-width="1.1"/>
<line x1="661.87" y1="3" x2="661.87" y2="6.4" stroke="#000" stroke-width="1.1"/>
<line x1="667.98" y1="239.6" x2="667.98" y2="236.2" stroke="#000" stroke-width="1.1"/>
<line x1="667.98" y1="3" x2="667.98" y2="6.4" stroke="#000" stroke-width="1.1"/>
<line x1="674.09" y1="239.6" x2="674.09" y2="236.2" stroke="#000" stroke-width="1.1"/>
<line x1="674.09" y1="3" x2="674.09" y2="6.4" stroke="#000" stroke-width="1.1"/>
<line x1="435.76" y1="239.6" x2="435.76" y2="233.3" stroke="#000" stroke-width="1.1"/>
<line x1="435.76" y1="3" x2="435.76" y2="9.3" stroke="#000" stroke-width="1.1"/>
<line x1="466.31" y1="239.6" x2="466.31" y2="233.3" stroke="#000" stroke-width="1.1"/>
<line x1="466.31" y1="3" x2="466.31" y2="9.3" stroke="#000" stroke-width="1.1"/>
<line x1="496.87" y1="239.6" x2="496.87" y2="233.3" stroke="#000" stroke-width="1.1"/>
<line x1="496.87" y1="3" x2="496.87" y2="9.3" stroke="#000" stroke-width="1.1"/>
<line x1="527.42" y1="239.6" x2="527.42" y2="233.3" stroke="#000" stroke-width="1.1"/>
<line x1="527.42" y1="3" x2="527.42" y2="9.3" stroke="#000" stroke-width="1.1"/>
<line x1="557.98" y1="239.6" x2="557.98" y2="233.3" stroke="#000" stroke-width="1.1"/>
<line x1="557.98" y1="3" x2="557.98" y2="9.3" stroke="#000" stroke-width="1.1"/>
<line x1="588.53" y1="239.6" x2="588.53" y2="233.3" stroke="#000" stroke-width="1.1"/>
<line x1="588.53" y1="3" x2="588.53" y2="9.3" stroke="#000" stroke-width="1.1"/>
<line x1="619.09" y1="239.6" x2="619.09" y2="233.3" stroke="#000" stroke-width="1.1"/>
<line x1="619.09" y1="3" x2="619.09" y2="9.3" stroke="#000" stroke-width="1.1"/>
<line x1="649.64" y1="239.6" x2="649.64" y2="233.3" stroke="#000" stroke-width="1.1"/>
<line x1="649.64" y1="3" x2="649.64" y2="9.3" stroke="#000" stroke-width="1.1"/>
<line x1="405.2" y1="230.8" x2="409.8" y2="230.8" stroke="#000" stroke-width="1.1"/>
<line x1="680.2" y1="230.8" x2="675.6" y2="230.8" stroke="#000" stroke-width="1.1"/>
<line x1="405.2" y1="222" x2="409.8" y2="222" stroke="#000" stroke-width="1.1"/>
<line x1="680.2" y1="222" x2="675.6" y2="222" stroke="#000" stroke-width="1.1"/>
<line x1="405.2" y1="213.2" x2="409.8" y2="213.2" stroke="#000" stroke-width="1.1"/>
<line x1="680.2" y1="213.2" x2="675.6" y2="213.2" stroke="#000" stroke-width="1.1"/>
<line x1="405.2" y1="204.4" x2="409.8" y2="204.4" stroke="#000" stroke-width="1.1"/>
<line x1="680.2" y1="204.4" x2="675.6" y2="204.4" stroke="#000" stroke-width="1.1"/>
<line x1="405.2" y1="195.6" x2="409.8" y2="195.6" stroke="#000" stroke-width="1.1"/>
<line x1="680.2" y1="195.6" x2="675.6" y2="195.6" stroke="#000" stroke-width="1.1"/>
<line x1="405.2" y1="186.8" x2="409.8" y2="186.8" stroke="#000" stroke-width="1.1"/>
<line x1="680.2" y1="186.8" x2="675.6" y2="186.8" stroke="#000" stroke-width="1.1"/>
<line x1="405.2" y1="178" x2="409.8" y2="178" stroke="#000" stroke-width="1.1"/>
<line x1="680.2" y1="178" x2="675.6" y2="178" stroke="#000" stroke-width="1.1"/>
<line x1="405.2" y1="169.2" x2="409.8" y2="169.2" stroke="#000" stroke-width="1.1"/>
<line x1="680.2" y1="169.2" x2="675.6" y2="169.2" stroke="#000" stroke-width="1.1"/>
<line x1="405.2" y1="160.4" x2="409.8" y2="160.4" stroke="#000" stroke-width="1.1"/>
<line x1="680.2" y1="160.4" x2="675.6" y2="160.4" stroke="#000" stroke-width="1.1"/>
<line x1="405.2" y1="151.6" x2="409.8" y2="151.6" stroke="#000" stroke-width="1.1"/>
<line x1="680.2" y1="151.6" x2="675.6" y2="151.6" stroke="#000" stroke-width="1.1"/>
<line x1="405.2" y1="142.8" x2="409.8" y2="142.8" stroke="#000" stroke-width="1.1"/>
<line x1="680.2" y1="142.8" x2="675.6" y2="142.8" stroke="#000" stroke-width="1.1"/>
<line x1="405.2" y1="134" x2="409.8" y2="134" stroke="#000" stroke-width="1.1"/>
<line x1="680.2" y1="134" x2="675.6" y2="134" stroke="#000" stroke-width="1.1"/>
<line x1="405.2" y1="125.2" x2="409.8" y2="125.2" stroke="#000" stroke-width="1.1"/>
<line x1="680.2" y1="125.2" x2="675.6" y2="125.2" stroke="#000" stroke-width="1.1"/>
<line x1="405.2" y1="116.4" x2="409.8" y2="116.4" stroke="#000" stroke-width="1.1"/>
<line x1="680.2" y1="116.4" x2="675.6" y2="116.4" stroke="#000" stroke-width="1.1"/>
<line x1="405.2" y1="107.6" x2="409.8" y2="107.6" stroke="#000" stroke-width="1.1"/>
<line x1="680.2" y1="107.6" x2="675.6" y2="107.6" stroke="#000" stroke-width="1.1"/>
<line x1="405.2" y1="98.8" x2="409.8" y2="98.8" stroke="#000" stroke-width="1.1"/>
<line x1="680.2" y1="98.8" x2="675.6" y2="98.8" stroke="#000" stroke-width="1.1"/>
<line x1="405.2" y1="90" x2="409.8" y2="90" stroke="#000" stroke-width="1.1"/>
<line x1="680.2" y1="90" x2="675.6" y2="90" stroke="#000" stroke-width="1.1"/>
<line x1="405.2" y1="81.2" x2="409.8" y2="81.2" stroke="#000" stroke-width="1.1"/>
<line x1="680.2" y1="81.2" x2="675.6" y2="81.2" stroke="#000" stroke-width="1.1"/>
<line x1="405.2" y1="72.4" x2="409.8" y2="72.4" stroke="#000" stroke-width="1.1"/>
<line x1="680.2" y1="72.4" x2="675.6" y2="72.4" stroke="#000" stroke-width="1.1"/>
<line x1="405.2" y1="63.6" x2="409.8" y2="63.6" stroke="#000" stroke-width="1.1"/>
<line x1="680.2" y1="63.6" x2="675.6" y2="63.6" stroke="#000" stroke-width="1.1"/>
<line x1="405.2" y1="54.8" x2="409.8" y2="54.8" stroke="#000" stroke-width="1.1"/>
<line x1="680.2" y1="54.8" x2="675.6" y2="54.8" stroke="#000" stroke-width="1.1"/>
<line x1="405.2" y1="46" x2="409.8" y2="46" stroke="#000" stroke-width="1.1"/>
<line x1="680.2" y1="46" x2="675.6" y2="46" stroke="#000" stroke-width="1.1"/>
<line x1="405.2" y1="37.2" x2="409.8" y2="37.2" stroke="#000" stroke-width="1.1"/>
<line x1="680.2" y1="37.2" x2="675.6" y2="37.2" stroke="#000" stroke-width="1.1"/>
<line x1="405.2" y1="28.4" x2="409.8" y2="28.4" stroke="#000" stroke-width="1.1"/>
<line x1="680.2" y1="28.4" x2="675.6" y2="28.4" stroke="#000" stroke-width="1.1"/>
<line x1="405.2" y1="19.6" x2="409.8" y2="19.6" stroke="#000" stroke-width="1.1"/>
<line x1="680.2" y1="19.6" x2="675.6" y2="19.6" stroke="#000" stroke-width="1.1"/>
<line x1="405.2" y1="10.8" x2="409.8" y2="10.8" stroke="#000" stroke-width="1.1"/>
<line x1="680.2" y1="10.8" x2="675.6" y2="10.8" stroke="#000" stroke-width="1.1"/>
<line x1="405.2" y1="195.6" x2="414.5" y2="195.6" stroke="#000" stroke-width="1.1"/>
<line x1="680.2" y1="195.6" x2="670.9" y2="195.6" stroke="#000" stroke-width="1.1"/>
<line x1="405.2" y1="151.6" x2="414.5" y2="151.6" stroke="#000" stroke-width="1.1"/>
<line x1="680.2" y1="151.6" x2="670.9" y2="151.6" stroke="#000" stroke-width="1.1"/>
<line x1="405.2" y1="107.6" x2="414.5" y2="107.6" stroke="#000" stroke-width="1.1"/>
<line x1="680.2" y1="107.6" x2="670.9" y2="107.6" stroke="#000" stroke-width="1.1"/>
<line x1="405.2" y1="63.6" x2="414.5" y2="63.6" stroke="#000" stroke-width="1.1"/>
<line x1="680.2" y1="63.6" x2="670.9" y2="63.6" stroke="#000" stroke-width="1.1"/>
<line x1="405.2" y1="19.6" x2="414.5" y2="19.6" stroke="#000" stroke-width="1.1"/>
<line x1="680.2" y1="19.6" x2="670.9" y2="19.6" stroke="#000" stroke-width="1.1"/>
<rect x="405.2" y="243.3" width="275" height="45.7" fill="none" stroke="#000" stroke-width="1.1"/>
<line x1="411.31" y1="289" x2="411.31" y2="285.8" stroke="#000" stroke-width="1.1"/>
<line x1="411.31" y1="243.3" x2="411.31" y2="246.5" stroke="#000" stroke-width="1.1"/>
<line x1="417.42" y1="289" x2="417.42" y2="285.8" stroke="#000" stroke-width="1.1"/>
<line x1="417.42" y1="243.3" x2="417.42" y2="246.5" stroke="#000" stroke-width="1.1"/>
<line x1="423.53" y1="289" x2="423.53" y2="285.8" stroke="#000" stroke-width="1.1"/>
<line x1="423.53" y1="243.3" x2="423.53" y2="246.5" stroke="#000" stroke-width="1.1"/>
<line x1="429.64" y1="289" x2="429.64" y2="285.8" stroke="#000" stroke-width="1.1"/>
<line x1="429.64" y1="243.3" x2="429.64" y2="246.5" stroke="#000" stroke-width="1.1"/>
<line x1="435.76" y1="289" x2="435.76" y2="285.8" stroke="#000" stroke-width="1.1"/>
<line x1="435.76" y1="243.3" x2="435.76" y2="246.5" stroke="#000" stroke-width="1.1"/>
<line x1="441.87" y1="289" x2="441.87" y2="285.8" stroke="#000" stroke-width="1.1"/>
<line x1="441.87" y1="243.3" x2="441.87" y2="246.5" stroke="#000" stroke-width="1.1"/>
<line x1="447.98" y1="289" x2="447.98" y2="285.8" stroke="#000" stroke-width="1.1"/>
<line x1="447.98" y1="243.3" x2="447.98" y2="246.5" stroke="#000" stroke-width="1.1"/>
<line x1="454.09" y1="289" x2="454.09" y2="285.8" stroke="#000" stroke-width="1.1"/>
<line x1="454.09" y1="243.3" x2="454.09" y2="246.5" stroke="#000" stroke-width="1.1"/>
<line x1="460.2" y1="289" x2="460.2" y2="285.8" stroke="#000" stroke-width="1.1"/>
<line x1="460.2" y1="243.3" x2="460.2" y2="246.5" stroke="#000" stroke-width="1.1"/>
<line x1="466.31" y1="289" x2="466.31" y2="285.8" stroke="#000" stroke-width="1.1"/>
<line x1="466.31" y1="243.3" x2="466.31" y2="246.5" stroke="#000" stroke-width="1.1"/>
<line x1="472.42" y1="289" x2="472.42" y2="285.8" stroke="#000" stroke-width="1.1"/>
<line x1="472.42" y1="243.3" x2="472.42" y2="246.5" stroke="#000" stroke-width="1.1"/>
<line x1="478.53" y1="289" x2="478.53" y2="285.8" stroke="#000" stroke-width="1.1"/>
<line x1="478.53" y1="243.3" x2="478.53" y2="246.5" stroke="#000" stroke-width="1.1"/>
<line x1="484.64" y1="289" x2="484.64" y2="285.8" stroke="#000" stroke-width="1.1"/>
<line x1="484.64" y1="243.3" x2="484.64" y2="246.5" stroke="#000" stroke-width="1.1"/>
<line x1="490.76" y1="289" x2="490.76" y2="285.8" stroke="#000" stroke-width="1.1"/>
<line x1="490.76" y1="243.3" x2="490.76" y2="246.5" stroke="#000" stroke-width="1.1"/>
<line x1="496.87" y1="289" x2="496.87" y2="285.8" stroke="#000" stroke-width="1.1"/>
<line x1="496.87" y1="243.3" x2="496.87" y2="246.5" stroke="#000" stroke-width="1.1"/>
<line x1="502.98" y1="289" x2="502.98" y2="285.8" stroke="#000" stroke-width="1.1"/>
<line x1="502.98" y1="243.3" x2="502.98" y2="246.5" stroke="#000" stroke-width="1.1"/>
<line x1="509.09" y1="289" x2="509.09" y2="285.8" stroke="#000" stroke-width="1.1"/>
<line x1="509.09" y1="243.3" x2="509.09" y2="246.5" stroke="#000" stroke-width="1.1"/>
<line x1="515.2" y1="289" x2="515.2" y2="285.8" stroke="#000" stroke-width="1.1"/>
<line x1="515.2" y1="243.3" x2="515.2" y2="246.5" stroke="#000" stroke-width="1.1"/>
<line x1="521.31" y1="289" x2="521.31" y2="285.8" stroke="#000" stroke-width="1.1"/>
<line x1="521.31" y1="243.3" x2="521.31" y2="246.5" stroke="#000" stroke-width="1.1"/>
<line x1="527.42" y1="289" x2="527.42" y2="285.8" stroke="#000" stroke-width="1.1"/>
<line x1="527.42" y1="243.3" x2="527.42" y2="246.5" stroke="#000" stroke-width="1.1"/>
<line x1="533.53" y1="289" x2="533.53" y2="285.8" stroke="#000" stroke-width="1.1"/>
<line x1="533.53" y1="243.3" x2="533.53" y2="246.5" stroke="#000" stroke-width="1.1"/>
<line x1="539.64" y1="289" x2="539.64" y2="285.8" stroke="#000" stroke-width="1.1"/>
<line x1="539.64" y1="243.3" x2="539.64" y2="246.5" stroke="#000" stroke-width="1.1"/>
<line x1="545.76" y1="289" x2="545.76" y2="285.8" stroke="#000" stroke-width="1.1"/>
<line x1="545.76" y1="243.3" x2="545.76" y2="246.5" stroke="#000" stroke-width="1.1"/>
<line x1="551.87" y1="289" x2="551.87" y2="285.8" stroke="#000" stroke-width="1.1"/>
<line x1="551.87" y1="243.3" x2="551.87" y2="246.5" stroke="#000" stroke-width="1.1"/>
<line x1="557.98" y1="289" x2="557.98" y2="285.8" stroke="#000" stroke-width="1.1"/>
<line x1="557.98" y1="243.3" x2="557.98" y2="246.5" stroke="#000" stroke-width="1.1"/>
<line x1="564.09" y1="289" x2="564.09" y2="285.8" stroke="#000" stroke-width="1.1"/>
<line x1="564.09" y1="243.3" x2="564.09" y2="246.5" stroke="#000" stroke-width="1.1"/>
<line x1="570.2" y1="289" x2="570.2" y2="285.8" stroke="#000" stroke-width="1.1"/>
<line x1="570.2" y1="243.3" x2="570.2" y2="246.5" stroke="#000" stroke-width="1.1"/>
<line x1="576.31" y1="289" x2="576.31" y2="285.8" stroke="#000" stroke-width="1.1"/>
<line x1="576.31" y1="243.3" x2="576.31" y2="246.5" stroke="#000" stroke-width="1.1"/>
<line x1="582.42" y1="289" x2="582.42" y2="285.8" stroke="#000" stroke-width="1.1"/>
<line x1="582.42" y1="243.3" x2="582.42" y2="246.5" stroke="#000" stroke-width="1.1"/>
<line x1="588.53" y1="289" x2="588.53" y2="285.8" stroke="#000" stroke-width="1.1"/>
<line x1="588.53" y1="243.3" x2="588.53" y2="246.5" stroke="#000" stroke-width="1.1"/>
<line x1="594.64" y1="289" x2="594.64" y2="285.8" stroke="#000" stroke-width="1.1"/>
<line x1="594.64" y1="243.3" x2="594.64" y2="246.5" stroke="#000" stroke-width="1.1"/>
<line x1="600.76" y1="289" x2="600.76" y2="285.8" stroke="#000" stroke-width="1.1"/>
<line x1="600.76" y1="243.3" x2="600.76" y2="246.5" stroke="#000" stroke-width="1.1"/>
<line x1="606.87" y1="289" x2="606.87" y2="285.8" stroke="#000" stroke-width="1.1"/>
<line x1="606.87" y1="243.3" x2="606.87" y2="246.5" stroke="#000" stroke-width="1.1"/>
<line x1="612.98" y1="289" x2="612.98" y2="285.8" stroke="#000" stroke-width="1.1"/>
<line x1="612.98" y1="243.3" x2="612.98" y2="246.5" stroke="#000" stroke-width="1.1"/>
<line x1="619.09" y1="289" x2="619.09" y2="285.8" stroke="#000" stroke-width="1.1"/>
<line x1="619.09" y1="243.3" x2="619.09" y2="246.5" stroke="#000" stroke-width="1.1"/>
<line x1="625.2" y1="289" x2="625.2" y2="285.8" stroke="#000" stroke-width="1.1"/>
<line x1="625.2" y1="243.3" x2="625.2" y2="246.5" stroke="#000" stroke-width="1.1"/>
<line x1="631.31" y1="289" x2="631.31" y2="285.8" stroke="#000" stroke-width="1.1"/>
<line x1="631.31" y1="243.3" x2="631.31" y2="246.5" stroke="#000" stroke-width="1.1"/>
<line x1="637.42" y1="289" x2="637.42" y2="285.8" stroke="#000" stroke-width="1.1"/>
<line x1="637.42" y1="243.3" x2="637.42" y2="246.5" stroke="#000" stroke-width="1.1"/>
<line x1="643.53" y1="289" x2="643.53" y2="285.8" stroke="#000" stroke-width="1.1"/>
<line x1="643.53" y1="243.3" x2="643.53" y2="246.5" stroke="#000" stroke-width="1.1"/>
<line x1="649.64" y1="289" x2="649.64" y2="285.8" stroke="#000" stroke-width="1.1"/>
<line x1="649.64" y1="243.3" x2="649.64" y2="246.5" stroke="#000" stroke-width="1.1"/>
<line x1="655.76" y1="289" x2="655.76" y2="285.8" stroke="#000" stroke-width="1.1"/>
<line x1="655.76" y1="243.3" x2="655.76" y2="246.5" stroke="#000" stroke-width="1.1"/>
<line x1="661.87" y1="289" x2="661.87" y2="285.8" stroke="#000" stroke-width="1.1"/>
<line x1="661.87" y1="243.3" x2="661.87" y2="246.5" stroke="#000" stroke-width="1.1"/>
<line x1="667.98" y1="289" x2="667.98" y2="285.8" stroke="#000" stroke-width="1.1"/>
<line x1="667.98" y1="243.3" x2="667.98" y2="246.5" stroke="#000" stroke-width="1.1"/>
<line x1="674.09" y1="289" x2="674.09" y2="285.8" stroke="#000" stroke-width="1.1"/>
<line x1="674.09" y1="243.3" x2="674.09" y2="246.5" stroke="#000" stroke-width="1.1"/>
<line x1="435.76" y1="289" x2="435.76" y2="282.5" stroke="#000" stroke-width="1.1"/>
<line x1="435.76" y1="243.3" x2="435.76" y2="249.8" stroke="#000" stroke-width="1.1"/>
<line x1="466.31" y1="289" x2="466.31" y2="282.5" stroke="#000" stroke-width="1.1"/>
<line x1="466.31" y1="243.3" x2="466.31" y2="249.8" stroke="#000" stroke-width="1.1"/>
<line x1="496.87" y1="289" x2="496.87" y2="282.5" stroke="#000" stroke-width="1.1"/>
<line x1="496.87" y1="243.3" x2="496.87" y2="249.8" stroke="#000" stroke-width="1.1"/>
<line x1="527.42" y1="289" x2="527.42" y2="282.5" stroke="#000" stroke-width="1.1"/>
<line x1="527.42" y1="243.3" x2="527.42" y2="249.8" stroke="#000" stroke-width="1.1"/>
<line x1="557.98" y1="289" x2="557.98" y2="282.5" stroke="#000" stroke-width="1.1"/>
<line x1="557.98" y1="243.3" x2="557.98" y2="249.8" stroke="#000" stroke-width="1.1"/>
<line x1="588.53" y1="289" x2="588.53" y2="282.5" stroke="#000" stroke-width="1.1"/>
<line x1="588.53" y1="243.3" x2="588.53" y2="249.8" stroke="#000" stroke-width="1.1"/>
<line x1="619.09" y1="289" x2="619.09" y2="282.5" stroke="#000" stroke-width="1.1"/>
<line x1="619.09" y1="243.3" x2="619.09" y2="249.8" stroke="#000" stroke-width="1.1"/>
<line x1="649.64" y1="289" x2="649.64" y2="282.5" stroke="#000" stroke-width="1.1"/>
<line x1="649.64" y1="243.3" x2="649.64" y2="249.8" stroke="#000" stroke-width="1.1"/>
<line x1="405.2" y1="286.8" x2="408" y2="286.8" stroke="#000" stroke-width="1.1"/>
<line x1="680.2" y1="286.8" x2="677.4" y2="286.8" stroke="#000" stroke-width="1.1"/>
<line x1="405.2" y1="284.2" x2="408" y2="284.2" stroke="#000" stroke-width="1.1"/>
<line x1="680.2" y1="284.2" x2="677.4" y2="284.2" stroke="#000" stroke-width="1.1"/>
<line x1="405.2" y1="281.6" x2="408" y2="281.6" stroke="#000" stroke-width="1.1"/>
<line x1="680.2" y1="281.6" x2="677.4" y2="281.6" stroke="#000" stroke-width="1.1"/>
<line x1="405.2" y1="279" x2="408" y2="279" stroke="#000" stroke-width="1.1"/>
<line x1="680.2" y1="279" x2="677.4" y2="279" stroke="#000" stroke-width="1.1"/>
<line x1="405.2" y1="276.4" x2="408" y2="276.4" stroke="#000" stroke-width="1.1"/>
<line x1="680.2" y1="276.4" x2="677.4" y2="276.4" stroke="#000" stroke-width="1.1"/>
<line x1="405.2" y1="273.8" x2="408" y2="273.8" stroke="#000" stroke-width="1.1"/>
<line x1="680.2" y1="273.8" x2="677.4" y2="273.8" stroke="#000" stroke-width="1.1"/>
<line x1="405.2" y1="271.2" x2="408" y2="271.2" stroke="#000" stroke-width="1.1"/>
<line x1="680.2" y1="271.2" x2="677.4" y2="271.2" stroke="#000" stroke-width="1.1"/>
<line x1="405.2" y1="268.6" x2="408" y2="268.6" stroke="#000" stroke-width="1.1"/>
<line x1="680.2" y1="268.6" x2="677.4" y2="268.6" stroke="#000" stroke-width="1.1"/>
<line x1="405.2" y1="266" x2="408" y2="266" stroke="#000" stroke-width="1.1"/>
<line x1="680.2" y1="266" x2="677.4" y2="266" stroke="#000" stroke-width="1.1"/>
<line x1="405.2" y1="263.4" x2="408" y2="263.4" stroke="#000" stroke-width="1.1"/>
<line x1="680.2" y1="263.4" x2="677.4" y2="263.4" stroke="#000" stroke-width="1.1"/>
<line x1="405.2" y1="260.8" x2="408" y2="260.8" stroke="#000" stroke-width="1.1"/>
<line x1="680.2" y1="260.8" x2="677.4" y2="260.8" stroke="#000" stroke-width="1.1"/>
<line x1="405.2" y1="258.2" x2="408" y2="258.2" stroke="#000" stroke-width="1.1"/>
<line x1="680.2" y1="258.2" x2="677.4" y2="258.2" stroke="#000" stroke-width="1.1"/>
<line x1="405.2" y1="255.6" x2="408" y2="255.6" stroke="#000" stroke-width="1.1"/>
<line x1="680.2" y1="255.6" x2="677.4" y2="255.6" stroke="#000" stroke-width="1.1"/>
<line x1="405.2" y1="253" x2="408" y2="253" stroke="#000" stroke-width="1.1"/>
<line x1="680.2" y1="253" x2="677.4" y2="253" stroke="#000" stroke-width="1.1"/>
<line x1="405.2" y1="250.4" x2="408" y2="250.4" stroke="#000" stroke-width="1.1"/>
<line x1="680.2" y1="250.4" x2="677.4" y2="250.4" stroke="#000" stroke-width="1.1"/>
<line x1="405.2" y1="247.8" x2="408" y2="247.8" stroke="#000" stroke-width="1.1"/>
<line x1="680.2" y1="247.8" x2="677.4" y2="247.8" stroke="#000" stroke-width="1.1"/>
<line x1="405.2" y1="245.2" x2="408" y2="245.2" stroke="#000" stroke-width="1.1"/>
<line x1="680.2" y1="245.2" x2="677.4" y2="245.2" stroke="#000" stroke-width="1.1"/>
<line x1="405.2" y1="279" x2="411.8" y2="279" stroke="#000" stroke-width="1.1"/>
<line x1="680.2" y1="279" x2="673.6" y2="279" stroke="#000" stroke-width="1.1"/>
<line x1="405.2" y1="266" x2="411.8" y2="266" stroke="#000" stroke-width="1.1"/>
<line x1="680.2" y1="266" x2="673.6" y2="266" stroke="#000" stroke-width="1.1"/>
<line x1="405.2" y1="253" x2="411.8" y2="253" stroke="#000" stroke-width="1.1"/>
<line x1="680.2" y1="253" x2="673.6" y2="253" stroke="#000" stroke-width="1.1"/>
<text transform="translate(37.1,231) scale(1.04,1)" x="0" y="0" font-size="11.6" text-anchor="end">10<tspan dy="-4.4" font-size="7.2" letter-spacing="-0.2">&#8722;1</tspan></text>
<text transform="translate(37.1,199.7) scale(1.04,1)" x="0" y="0" font-size="11.6" text-anchor="end" font-weight="normal" font-style="normal" style="" >1</text>
<text transform="translate(37.1,168.4) scale(1.04,1)" x="0" y="0" font-size="11.6" text-anchor="end" font-weight="normal" font-style="normal" style="" >10</text>
<text transform="translate(37.1,137.1) scale(1.04,1)" x="0" y="0" font-size="11.6" text-anchor="end">10<tspan dy="-4.4" font-size="7.6">2</tspan></text>
<text transform="translate(37.1,105.8) scale(1.04,1)" x="0" y="0" font-size="11.6" text-anchor="end">10<tspan dy="-4.4" font-size="7.6">3</tspan></text>
<text transform="translate(37.1,74.5) scale(1.04,1)" x="0" y="0" font-size="11.6" text-anchor="end">10<tspan dy="-4.4" font-size="7.6">4</tspan></text>
<text transform="translate(37.1,43.2) scale(1.04,1)" x="0" y="0" font-size="11.6" text-anchor="end">10<tspan dy="-4.4" font-size="7.6">5</tspan></text>
<text transform="translate(37.1,11.9) scale(1.04,1)" x="0" y="0" font-size="11.6" text-anchor="end">10<tspan dy="-4.4" font-size="7.6">6</tspan></text>
<text transform="translate(37.2,287.6) scale(1.04,1)" x="0" y="0" font-size="11.6" text-anchor="end" font-weight="normal" font-style="normal" style="" >0</text>
<text transform="translate(37.2,270.9) scale(1.04,1)" x="0" y="0" font-size="11.6" text-anchor="end" font-weight="normal" font-style="normal" style="" >1</text>
<text transform="translate(37.2,254.2) scale(1.04,1)" x="0" y="0" font-size="11.6" text-anchor="end" font-weight="normal" font-style="normal" style="" >2</text>
<text transform="translate(41.2,302.8) scale(1.04,1)" x="0" y="0" font-size="11.6" text-anchor="middle" font-weight="normal" font-style="normal" style="" >0</text>
<text transform="translate(87.08,302.8) scale(1.04,1)" x="0" y="0" font-size="11.6" text-anchor="middle" font-weight="normal" font-style="normal" style="" >500</text>
<text transform="translate(132.97,302.8) scale(1.04,1)" x="0" y="0" font-size="11.6" text-anchor="middle" font-weight="normal" font-style="normal" style="" >1000</text>
<text transform="translate(178.85,302.8) scale(1.04,1)" x="0" y="0" font-size="11.6" text-anchor="middle" font-weight="normal" font-style="normal" style="" >1500</text>
<text transform="translate(224.73,302.8) scale(1.04,1)" x="0" y="0" font-size="11.6" text-anchor="middle" font-weight="normal" font-style="normal" style="" >2000</text>
<text transform="translate(270.62,302.8) scale(1.04,1)" x="0" y="0" font-size="11.6" text-anchor="middle" font-weight="normal" font-style="normal" style="" >2500</text>
<text transform="translate(316.5,302.8) scale(1.04,1)" x="0" y="0" font-size="11.6" text-anchor="middle" font-weight="normal" font-style="normal" style="" >3000</text>
<text transform="translate(400.6,198.6) scale(1.04,1)" x="0" y="0" font-size="11.6" text-anchor="end" font-weight="normal" font-style="normal" style="" >1000</text>
<text transform="translate(400.6,154.6) scale(1.04,1)" x="0" y="0" font-size="11.6" text-anchor="end" font-weight="normal" font-style="normal" style="" >2000</text>
<text transform="translate(400.6,110.6) scale(1.04,1)" x="0" y="0" font-size="11.6" text-anchor="end" font-weight="normal" font-style="normal" style="" >3000</text>
<text transform="translate(400.6,66.6) scale(1.04,1)" x="0" y="0" font-size="11.6" text-anchor="end" font-weight="normal" font-style="normal" style="" >4000</text>
<text transform="translate(400.6,22.6) scale(1.04,1)" x="0" y="0" font-size="11.6" text-anchor="end" font-weight="normal" font-style="normal" style="" >5000</text>
<text transform="translate(400.2,282.9) scale(1.04,1)" x="0" y="0" font-size="11.6" text-anchor="end" font-weight="normal" font-style="normal" style="" >0.5</text>
<text transform="translate(400.2,269.9) scale(1.04,1)" x="0" y="0" font-size="11.6" text-anchor="end" font-weight="normal" font-style="normal" style="" >1</text>
<text transform="translate(400.2,256.9) scale(1.04,1)" x="0" y="0" font-size="11.6" text-anchor="end" font-weight="normal" font-style="normal" style="" >1.5</text>
<text transform="translate(405.2,302.8) scale(1.04,1)" x="0" y="0" font-size="11.6" text-anchor="middle" font-weight="normal" font-style="normal" style="" >0</text>
<text transform="translate(435.76,302.8) scale(1.04,1)" x="0" y="0" font-size="11.6" text-anchor="middle" font-weight="normal" font-style="normal" style="" >1</text>
<text transform="translate(466.31,302.8) scale(1.04,1)" x="0" y="0" font-size="11.6" text-anchor="middle" font-weight="normal" font-style="normal" style="" >2</text>
<text transform="translate(496.87,302.8) scale(1.04,1)" x="0" y="0" font-size="11.6" text-anchor="middle" font-weight="normal" font-style="normal" style="" >3</text>
<text transform="translate(527.42,302.8) scale(1.04,1)" x="0" y="0" font-size="11.6" text-anchor="middle" font-weight="normal" font-style="normal" style="" >4</text>
<text transform="translate(557.98,302.8) scale(1.04,1)" x="0" y="0" font-size="11.6" text-anchor="middle" font-weight="normal" font-style="normal" style="" >5</text>
<text transform="translate(588.53,302.8) scale(1.04,1)" x="0" y="0" font-size="11.6" text-anchor="middle" font-weight="normal" font-style="normal" style="" >6</text>
<text transform="translate(619.09,302.8) scale(1.04,1)" x="0" y="0" font-size="11.6" text-anchor="middle" font-weight="normal" font-style="normal" style="" >7</text>
<text transform="translate(649.64,302.8) scale(1.04,1)" x="0" y="0" font-size="11.6" text-anchor="middle" font-weight="normal" font-style="normal" style="" >8</text>
<text transform="translate(680.2,302.8) scale(1.04,1)" x="0" y="0" font-size="11.6" text-anchor="middle" font-weight="normal" font-style="normal" style="" >9</text>
<text transform="translate(11.3,2.8) rotate(-90)" x="0" y="0" font-size="12.8" text-anchor="end">Events / 50 GeV</text>
<text transform="translate(12.6,241.8) rotate(-90)" x="0" y="0" font-size="12.8" text-anchor="end">Data/Pred</text>
<text transform="translate(366,3) rotate(-90)" x="0" y="0" font-size="12.8" text-anchor="end">Events / 0.25</text>
<text transform="translate(376.7,243) rotate(-90)" x="0" y="0" font-size="12.8" text-anchor="end">Data/Pred</text>
<text transform="translate(316.6,321.8) scale(1.06,1)" x="0" y="0" font-size="12.5" text-anchor="end">m<tspan dy="3.6" font-size="8.3">jj,VBF</tspan><tspan dy="-3.6"> [GeV]</tspan></text>
<text transform="translate(648.2,318.7) scale(1.25,1)" x="0" y="0" font-size="14.5" style="font-family:'Liberation Serif', serif">&#951;</text>
<text x="656.8" y="325.6" font-size="8.3" text-anchor="start" font-weight="normal" font-style="normal" style="" >jj,VBF</text>
<text x="673.0" y="318.7" font-size="13.6" style="font-family:'Liberation Serif', serif">&#916;</text>
<text x="137.6" y="335.2" font-size="15.5" font-weight="bold" style="font-family:'Liberation Serif', serif">(a)</text>
<text x="498.0" y="335.2" font-size="15.5" font-weight="bold" style="font-family:'Liberation Serif', serif">(b)</text>
<text transform="translate(55,22.3) scale(1.07,1)" x="0" y="0" font-size="11.2" text-anchor="start" font-weight="bold" font-style="italic" style="" >ATLAS</text>
<path d="M55.6,34.2 L56.6,33.6 L58,38.8 L58.9,29.6 L63.8,29.6" fill="none" stroke="#000" stroke-width="0.7"/>
<text transform="translate(59,37.6) scale(1.03,1)" x="0" y="0" font-size="9.2" text-anchor="start" font-weight="normal" font-style="normal" style="" >s = 8 TeV, 20.3 fb<tspan dy="-3.6" font-size="6.4">-1</tspan></text>
<text transform="translate(55.2,49.6) scale(1.05,1)" x="0" y="0" font-size="9.2" text-anchor="start" font-weight="bold" font-style="italic" style="" >H</text>
<path d="M62.3,46.4 L70.6,46.4 M68.4,44.9 L70.6,46.4 L68.4,47.9" fill="none" stroke="#000" stroke-width="0.75"/>
<text transform="translate(71,49.6) scale(1.05,1)" x="0" y="0" font-size="9.2" text-anchor="start" font-weight="bold" font-style="italic" style="" >ZZ</text>
<path d="M84.6,46.4 L93,46.4 M90.8,44.9 L93,46.4 L90.8,47.9" fill="none" stroke="#000" stroke-width="0.75"/>
<text transform="translate(93,49.6) scale(1.05,1)" x="0" y="0" font-size="9.2" text-anchor="start" font-weight="bold" font-style="italic" style="" >llqq VBF</text>
<text x="55.3" y="62.1" font-size="9.2" text-anchor="start" font-weight="bold" font-style="italic" style="" >Pre-fit</text>
<text transform="translate(419.5,22.3) scale(1.07,1)" x="0" y="0" font-size="11.2" text-anchor="start" font-weight="bold" font-style="italic" style="" >ATLAS</text>
<path d="M420.1,34.2 L421.1,33.6 L422.5,38.8 L423.4,29.6 L428.3,29.6" fill="none" stroke="#000" stroke-width="0.7"/>
<text transform="translate(423.5,37.6) scale(1.03,1)" x="0" y="0" font-size="9.2" text-anchor="start" font-weight="normal" font-style="normal" style="" >s = 8 TeV, 20.3 fb<tspan dy="-3.6" font-size="6.4">-1</tspan></text>
<text transform="translate(419.7,49.6) scale(1.05,1)" x="0" y="0" font-size="9.2" text-anchor="start" font-weight="bold" font-style="italic" style="" >H</text>
<path d="M426.8,46.4 L435.1,46.4 M432.9,44.9 L435.1,46.4 L432.9,47.9" fill="none" stroke="#000" stroke-width="0.75"/>
<text transform="translate(435.5,49.6) scale(1.05,1)" x="0" y="0" font-size="9.2" text-anchor="start" font-weight="bold" font-style="italic" style="" >ZZ</text>
<path d="M449.1,46.4 L457.5,46.4 M455.3,44.9 L457.5,46.4 L455.3,47.9" fill="none" stroke="#000" stroke-width="0.75"/>
<text transform="translate(457.5,49.6) scale(1.05,1)" x="0" y="0" font-size="9.2" text-anchor="start" font-weight="bold" font-style="italic" style="" >llqq VBF</text>
<text x="419.8" y="62.1" font-size="9.2" text-anchor="start" font-weight="bold" font-style="italic" style="" >Pre-fit</text>
<line x1="206.8" y1="15.5" x2="221.5" y2="15.5" stroke="#000" stroke-width="0.9"/>
<circle cx="214.15" cy="15.5" r="1.35" fill="#000"/>
<rect x="206.8" y="22.8" width="14.7" height="8" fill="#99ccff" stroke="#222" stroke-width="0.8"/>
<rect x="206.8" y="33.6" width="14.7" height="8" fill="#ff9933" stroke="#222" stroke-width="0.8"/>
<rect x="206.8" y="44.3" width="14.7" height="8" fill="#ffff66" stroke="#222" stroke-width="0.8"/>
<rect x="206.8" y="55" width="14.7" height="8" fill="#fff"/>
<rect x="206.8" y="55" width="14.7" height="8" fill="url(#hatchL)" stroke="#222" stroke-width="0.8"/>
<text transform="translate(225.3,17.9) scale(1.07,1)" x="0" y="0" font-size="8.6" text-anchor="start" font-weight="bold" font-style="normal" style="" >Data</text>
<text transform="translate(225.3,28.9) scale(1.07,1)" x="0" y="0" font-size="8.6" text-anchor="start" font-weight="bold" font-style="normal" style="" >Z+jets</text>
<text transform="translate(225.3,39.5) scale(1.07,1)" x="0" y="0" font-size="8.6" text-anchor="start" font-weight="bold" font-style="normal" style="" >Diboson</text>
<text transform="translate(225.3,49.9) scale(1.07,1)" x="0" y="0" font-size="8.6" text-anchor="start" font-weight="bold" font-style="normal" style="" >Top</text>
<text transform="translate(225.3,61) scale(1.07,1)" x="0" y="0" font-size="8.6" text-anchor="start" font-weight="bold" font-style="normal" style="" >Uncertainty</text>
<line x1="570.4" y1="15.5" x2="585.1" y2="15.5" stroke="#000" stroke-width="0.9"/>
<circle cx="577.75" cy="15.5" r="1.35" fill="#000"/>
<rect x="570.4" y="22.8" width="14.7" height="8" fill="#99ccff" stroke="#222" stroke-width="0.8"/>
<rect x="570.4" y="33.6" width="14.7" height="8" fill="#ff9933" stroke="#222" stroke-width="0.8"/>
<rect x="570.4" y="44.3" width="14.7" height="8" fill="#ffff66" stroke="#222" stroke-width="0.8"/>
<rect x="570.4" y="55" width="14.7" height="8" fill="#fff"/>
<rect x="570.4" y="55" width="14.7" height="8" fill="url(#hatchL)" stroke="#222" stroke-width="0.8"/>
<text transform="translate(588.9,17.9) scale(1.07,1)" x="0" y="0" font-size="8.6" text-anchor="start" font-weight="bold" font-style="normal" style="" >Data</text>
<text transform="translate(588.9,28.9) scale(1.07,1)" x="0" y="0" font-size="8.6" text-anchor="start" font-weight="bold" font-style="normal" style="" >Z+jets</text>
<text transform="translate(588.9,39.5) scale(1.07,1)" x="0" y="0" font-size="8.6" text-anchor="start" font-weight="bold" font-style="normal" style="" >Diboson</text>
<text transform="translate(588.9,49.9) scale(1.07,1)" x="0" y="0" font-size="8.6" text-anchor="start" font-weight="bold" font-style="normal" style="" >Top</text>
<text transform="translate(588.9,61) scale(1.07,1)" x="0" y="0" font-size="8.6" text-anchor="start" font-weight="bold" font-style="normal" style="" >Uncertainty</text>
</svg></body></html>
